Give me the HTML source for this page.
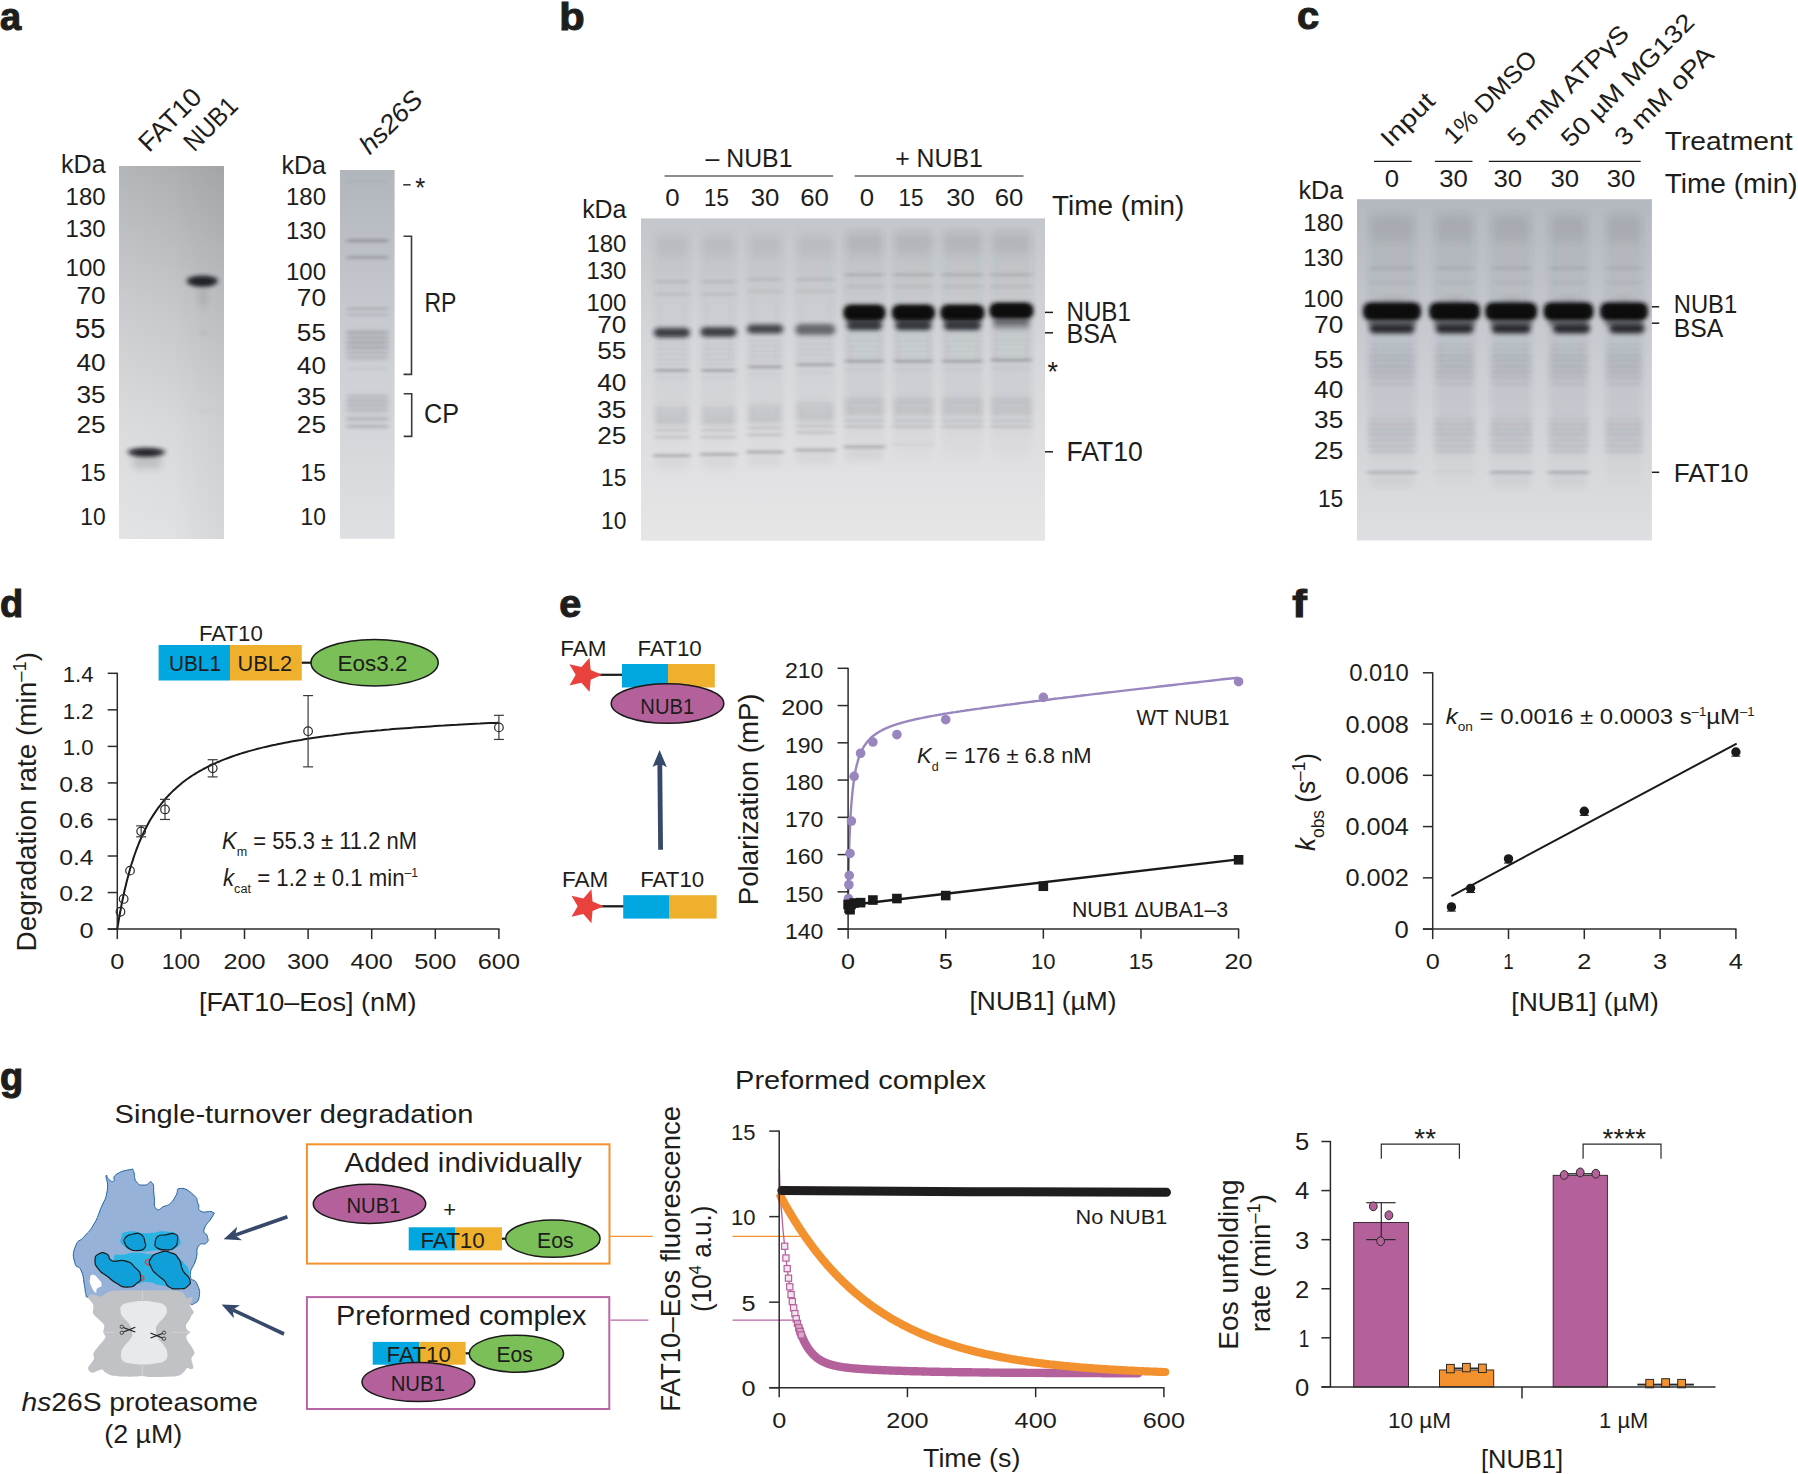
<!DOCTYPE html>
<html lang="en"><head><meta charset="utf-8"><title>Figure</title>
<style>html,body{margin:0;padding:0;background:#fff}body{width:1798px;height:1474px;overflow:hidden}svg{display:block}svg text{font-family:"Liberation Sans",sans-serif;fill:#1d1d1b}</style></head>
<body>
<svg width="1798" height="1474" viewBox="0 0 1798 1474">
<defs>
<filter id="b1" x="-20%" y="-300%" width="140%" height="700%"><feGaussianBlur stdDeviation="2.0 1.45"/></filter>
<filter id="b2" x="-30%" y="-200%" width="160%" height="500%"><feGaussianBlur stdDeviation="2.4 2.1"/></filter>
<filter id="b3" x="-50%" y="-100%" width="200%" height="300%"><feGaussianBlur stdDeviation="3.5 4"/></filter>
<linearGradient id="gA1" x1="0" y1="0" x2="0" y2="1"><stop offset="0" stop-color="#a9acaf"/><stop offset="0.35" stop-color="#c1c3c6"/><stop offset="0.7" stop-color="#d6d7d9"/><stop offset="1" stop-color="#dfe0e1"/></linearGradient>
<linearGradient id="gA1h" x1="0" y1="0" x2="1" y2="0"><stop offset="0" stop-color="#fff" stop-opacity="0.12"/><stop offset="0.5" stop-color="#fff" stop-opacity="0.05"/><stop offset="1" stop-color="#000" stop-opacity="0.04"/></linearGradient>
<linearGradient id="gA2" x1="0" y1="0" x2="0" y2="1"><stop offset="0" stop-color="#b1b5bc"/><stop offset="0.5" stop-color="#cccfd4"/><stop offset="1" stop-color="#dfe0e3"/></linearGradient>
<linearGradient id="gB" x1="0" y1="0" x2="0" y2="1"><stop offset="0" stop-color="#c3c6ca"/><stop offset="0.4" stop-color="#d6d7da"/><stop offset="1" stop-color="#e6e6e7"/></linearGradient>
<linearGradient id="gC" x1="0" y1="0" x2="0" y2="1"><stop offset="0" stop-color="#b4b8bf"/><stop offset="0.45" stop-color="#c9ccd1"/><stop offset="1" stop-color="#dedfe2"/></linearGradient>
<linearGradient id="laneB" x1="0" y1="0" x2="0" y2="1"><stop offset="0" stop-color="#30343c" stop-opacity="0.08"/><stop offset="0.7" stop-color="#30343c" stop-opacity="0.06"/><stop offset="1" stop-color="#30343c" stop-opacity="0"/></linearGradient>
</defs>
<text transform="translate(0.00 29.50)" font-size="38.00" font-weight="700" stroke="#222221" stroke-width="1.1" fill="#222221">a</text>
<rect x="119" y="166" width="105" height="373" fill="url(#gA1)"/>
<rect x="119" y="166" width="105" height="373" fill="url(#gA1h)"/>
<ellipse cx="202.3" cy="281.0" rx="15.5" ry="5.5" fill="#15151a" opacity="0.80" filter="url(#b2)"/>
<ellipse cx="202.3" cy="281.6" rx="12.5" ry="3.2" fill="#15151a" opacity="0.80" filter="url(#b2)"/>
<ellipse cx="203.0" cy="297.0" rx="4.0" ry="11.0" fill="#15151a" opacity="0.11" filter="url(#b3)"/>
<ellipse cx="204.0" cy="333.0" rx="5.0" ry="2.5" fill="#15151a" opacity="0.05" filter="url(#b2)"/>
<ellipse cx="204.0" cy="411.0" rx="6.0" ry="1.5" fill="#15151a" opacity="0.04" filter="url(#b2)"/>
<ellipse cx="146.5" cy="452.0" rx="19.0" ry="4.2" fill="#15151a" opacity="0.78" filter="url(#b2)"/>
<ellipse cx="146.0" cy="453.0" rx="15.0" ry="2.5" fill="#15151a" opacity="0.75" filter="url(#b2)"/>
<rect x="132.0" y="455.0" width="30.0" height="13.0" rx="6.0" fill="#15151a" opacity="0.16" filter="url(#b3)"/>
<text transform="translate(105.60 172.50) scale(0.9408 1)" font-size="26.60" text-anchor="end">kDa</text>
<text transform="translate(105.60 204.50) scale(1.0120 1)" font-size="23.69" text-anchor="end">180</text>
<text transform="translate(105.60 236.50) scale(1.0120 1)" font-size="23.69" text-anchor="end">130</text>
<text transform="translate(105.60 275.50) scale(1.0120 1)" font-size="23.69" text-anchor="end">100</text>
<text transform="translate(105.60 303.50) scale(1.1079 1)" font-size="23.69" text-anchor="end">70</text>
<text transform="translate(105.60 370.90) scale(1.1079 1)" font-size="23.69" text-anchor="end">40</text>
<text transform="translate(105.60 403.00) scale(1.1079 1)" font-size="23.69" text-anchor="end">35</text>
<text transform="translate(105.60 432.90) scale(1.1079 1)" font-size="23.69" text-anchor="end">25</text>
<text transform="translate(105.60 480.80) scale(0.9640 1)" font-size="23.69" text-anchor="end">15</text>
<text transform="translate(105.60 524.80) scale(0.9640 1)" font-size="23.69" text-anchor="end">10</text>
<text transform="translate(105.50 338.40) scale(1.0253 1)" font-size="26.74" text-anchor="end">55</text>
<text transform="translate(149.00 153.20) rotate(-45.00) scale(1.0249 1)" font-size="26.16">FAT10</text>
<text transform="translate(194.20 152.80) rotate(-45.00) scale(0.9170 1)" font-size="26.16">NUB1</text>
<rect x="340" y="170" width="54.6" height="368.8" fill="url(#gA2)"/>
<rect x="346.5" y="180.0" width="42.0" height="3.0" rx="1.5" fill="#15151a" opacity="0.03" filter="url(#b1)"/>
<rect x="346.5" y="239.0" width="42.0" height="3.2" rx="1.6" fill="#15151a" opacity="0.22" filter="url(#b1)"/>
<rect x="346.5" y="255.8" width="42.0" height="3.2" rx="1.6" fill="#15151a" opacity="0.19" filter="url(#b1)"/>
<rect x="346.5" y="307.5" width="42.0" height="2.6" rx="1.3" fill="#15151a" opacity="0.14" filter="url(#b1)"/>
<rect x="346.5" y="313.4" width="42.0" height="2.4" rx="1.2" fill="#15151a" opacity="0.11" filter="url(#b1)"/>
<rect x="346.5" y="331.0" width="42.0" height="3.0" rx="1.5" fill="#15151a" opacity="0.16" filter="url(#b1)"/>
<rect x="346.5" y="336.3" width="42.0" height="2.6" rx="1.3" fill="#15151a" opacity="0.14" filter="url(#b1)"/>
<rect x="346.5" y="341.3" width="42.0" height="2.6" rx="1.3" fill="#15151a" opacity="0.16" filter="url(#b1)"/>
<rect x="346.5" y="346.2" width="42.0" height="2.6" rx="1.3" fill="#15151a" opacity="0.16" filter="url(#b1)"/>
<rect x="346.5" y="351.6" width="42.0" height="2.4" rx="1.2" fill="#15151a" opacity="0.11" filter="url(#b1)"/>
<rect x="346.5" y="356.6" width="42.0" height="2.4" rx="1.2" fill="#15151a" opacity="0.11" filter="url(#b1)"/>
<rect x="346.5" y="367.3" width="42.0" height="3.0" rx="1.5" fill="#15151a" opacity="0.04" filter="url(#b1)"/>
<rect x="346.5" y="395.1" width="42.0" height="2.4" rx="1.2" fill="#15151a" opacity="0.11" filter="url(#b1)"/>
<rect x="346.5" y="399.6" width="42.0" height="2.4" rx="1.2" fill="#15151a" opacity="0.15" filter="url(#b1)"/>
<rect x="346.5" y="404.0" width="42.0" height="2.4" rx="1.2" fill="#15151a" opacity="0.14" filter="url(#b1)"/>
<rect x="346.5" y="408.7" width="42.0" height="2.6" rx="1.3" fill="#15151a" opacity="0.12" filter="url(#b1)"/>
<rect x="346.5" y="417.4" width="42.0" height="2.8" rx="1.4" fill="#15151a" opacity="0.14" filter="url(#b1)"/>
<rect x="346.5" y="425.2" width="42.0" height="2.8" rx="1.4" fill="#15151a" opacity="0.16" filter="url(#b1)"/>
<rect x="346.5" y="330.0" width="42.0" height="30.0" rx="6.0" fill="#15151a" opacity="0.05" filter="url(#b3)"/>
<rect x="346.5" y="393.0" width="42.0" height="34.0" rx="6.0" fill="#15151a" opacity="0.04" filter="url(#b3)"/>
<text transform="translate(326.00 173.70) scale(0.9408 1)" font-size="26.60" text-anchor="end">kDa</text>
<text transform="translate(326.00 205.00) scale(1.0120 1)" font-size="23.69" text-anchor="end">180</text>
<text transform="translate(326.00 239.30) scale(1.0120 1)" font-size="23.69" text-anchor="end">130</text>
<text transform="translate(326.00 280.30) scale(1.0120 1)" font-size="23.69" text-anchor="end">100</text>
<text transform="translate(326.00 306.30) scale(1.1079 1)" font-size="23.69" text-anchor="end">70</text>
<text transform="translate(326.00 341.30) scale(1.1079 1)" font-size="23.69" text-anchor="end">55</text>
<text transform="translate(326.00 374.00) scale(1.1079 1)" font-size="23.69" text-anchor="end">40</text>
<text transform="translate(326.00 405.20) scale(1.1079 1)" font-size="23.69" text-anchor="end">35</text>
<text transform="translate(326.00 432.80) scale(1.1079 1)" font-size="23.69" text-anchor="end">25</text>
<text transform="translate(326.00 480.90) scale(0.9640 1)" font-size="23.69" text-anchor="end">15</text>
<text transform="translate(326.00 524.70) scale(0.9640 1)" font-size="23.69" text-anchor="end">10</text>
<text transform="translate(369.80 155.60) rotate(-45.00) scale(1.0380 1)" font-size="26.16" font-style="italic">hs26S</text>
<line x1="403.20" y1="184.80" x2="410.60" y2="184.80" stroke="#3a3a3a" stroke-width="1.60"/>
<text transform="translate(415.20 197.30) scale(0.9500 1)" font-size="27.00">*</text>
<path d="M403.5 236.3 H411.5 V374.4 H403.5" fill="none" stroke="#3a3a3a" stroke-width="1.60"/>
<text transform="translate(424.40 311.50) scale(0.8521 1)" font-size="27.03">RP</text>
<path d="M403.7 393.8 H411.7 V436.4 H403.7" fill="none" stroke="#3a3a3a" stroke-width="1.60"/>
<text transform="translate(424.00 422.60) scale(0.9319 1)" font-size="27.03">CP</text>
<text transform="translate(559.30 29.70) scale(1.0800 1)" font-size="38.50" font-weight="700" stroke="#222221" stroke-width="1.1" fill="#222221">b</text>
<rect x="641" y="218.4" width="404" height="322.3" fill="url(#gB)"/>
<rect x="654.4" y="232" width="35.0" height="240" fill="url(#laneB)" opacity="0.55" filter="url(#b3)"/>
<rect x="701.0" y="232" width="35.0" height="240" fill="url(#laneB)" opacity="0.55" filter="url(#b3)"/>
<rect x="747.6" y="232" width="35.0" height="240" fill="url(#laneB)" opacity="0.55" filter="url(#b3)"/>
<rect x="795.8" y="232" width="39.0" height="240" fill="url(#laneB)" opacity="0.55" filter="url(#b3)"/>
<rect x="844.4" y="232" width="40.0" height="240" fill="url(#laneB)" opacity="0.80" filter="url(#b3)"/>
<rect x="892.9" y="232" width="41.0" height="240" fill="url(#laneB)" opacity="0.80" filter="url(#b3)"/>
<rect x="941.4" y="232" width="42.0" height="240" fill="url(#laneB)" opacity="0.80" filter="url(#b3)"/>
<rect x="990.4" y="232" width="42.0" height="240" fill="url(#laneB)" opacity="0.80" filter="url(#b3)"/>
<rect x="656.4" y="238.0" width="31.0" height="18.0" rx="6.0" fill="#15151a" opacity="0.04" filter="url(#b3)"/>
<rect x="703.0" y="238.0" width="31.0" height="18.0" rx="6.0" fill="#15151a" opacity="0.04" filter="url(#b3)"/>
<rect x="749.6" y="238.0" width="31.0" height="18.0" rx="6.0" fill="#15151a" opacity="0.04" filter="url(#b3)"/>
<rect x="797.8" y="238.0" width="35.0" height="18.0" rx="6.0" fill="#15151a" opacity="0.04" filter="url(#b3)"/>
<rect x="846.4" y="232.0" width="36.0" height="22.0" rx="6.0" fill="#15151a" opacity="0.06" filter="url(#b3)"/>
<rect x="894.9" y="232.0" width="37.0" height="22.0" rx="6.0" fill="#15151a" opacity="0.06" filter="url(#b3)"/>
<rect x="943.4" y="232.0" width="38.0" height="22.0" rx="6.0" fill="#15151a" opacity="0.06" filter="url(#b3)"/>
<rect x="992.4" y="232.0" width="38.0" height="22.0" rx="6.0" fill="#15151a" opacity="0.06" filter="url(#b3)"/>
<rect x="654.4" y="280.6" width="35.0" height="2.2" rx="1.1" fill="#15151a" opacity="0.11" filter="url(#b1)"/>
<rect x="701.0" y="280.6" width="35.0" height="2.2" rx="1.1" fill="#15151a" opacity="0.11" filter="url(#b1)"/>
<rect x="654.4" y="293.1" width="35.0" height="2.2" rx="1.1" fill="#15151a" opacity="0.09" filter="url(#b1)"/>
<rect x="701.0" y="293.1" width="35.0" height="2.2" rx="1.1" fill="#15151a" opacity="0.09" filter="url(#b1)"/>
<rect x="747.6" y="278.3" width="35.0" height="2.2" rx="1.1" fill="#15151a" opacity="0.11" filter="url(#b1)"/>
<rect x="795.8" y="278.3" width="39.0" height="2.2" rx="1.1" fill="#15151a" opacity="0.11" filter="url(#b1)"/>
<rect x="747.6" y="290.2" width="35.0" height="2.2" rx="1.1" fill="#15151a" opacity="0.08" filter="url(#b1)"/>
<rect x="795.8" y="290.2" width="39.0" height="2.2" rx="1.1" fill="#15151a" opacity="0.08" filter="url(#b1)"/>
<rect x="844.4" y="273.4" width="40.0" height="2.4" rx="1.2" fill="#15151a" opacity="0.15" filter="url(#b1)"/>
<rect x="892.9" y="273.4" width="41.0" height="2.4" rx="1.2" fill="#15151a" opacity="0.15" filter="url(#b1)"/>
<rect x="941.4" y="273.4" width="42.0" height="2.4" rx="1.2" fill="#15151a" opacity="0.15" filter="url(#b1)"/>
<rect x="990.4" y="273.4" width="42.0" height="2.4" rx="1.2" fill="#15151a" opacity="0.15" filter="url(#b1)"/>
<rect x="844.4" y="285.3" width="40.0" height="2.4" rx="1.2" fill="#15151a" opacity="0.07" filter="url(#b1)"/>
<rect x="892.9" y="285.3" width="41.0" height="2.4" rx="1.2" fill="#15151a" opacity="0.07" filter="url(#b1)"/>
<rect x="941.4" y="285.3" width="42.0" height="2.4" rx="1.2" fill="#15151a" opacity="0.07" filter="url(#b1)"/>
<rect x="990.4" y="285.3" width="42.0" height="2.4" rx="1.2" fill="#15151a" opacity="0.07" filter="url(#b1)"/>
<rect x="843.9" y="304.8" width="41.0" height="16.0" rx="6.0" fill="#0c0c10" opacity="1.00" filter="url(#b2)"/>
<rect x="845.9" y="306.8" width="37.0" height="12.0" rx="6.0" fill="#0c0c10" opacity="1.00" filter="url(#b1)"/>
<rect x="846.9" y="321.8" width="35.0" height="8.5" rx="4.2" fill="#15151a" opacity="0.80" filter="url(#b2)"/>
<rect x="847.4" y="318.5" width="34.0" height="6.0" rx="3.0" fill="#15151a" opacity="0.50" filter="url(#b2)"/>
<rect x="892.4" y="304.8" width="42.0" height="16.0" rx="6.0" fill="#0c0c10" opacity="1.00" filter="url(#b2)"/>
<rect x="894.4" y="306.8" width="38.0" height="12.0" rx="6.0" fill="#0c0c10" opacity="1.00" filter="url(#b1)"/>
<rect x="895.4" y="321.8" width="36.0" height="8.5" rx="4.2" fill="#15151a" opacity="0.80" filter="url(#b2)"/>
<rect x="895.9" y="318.5" width="35.0" height="6.0" rx="3.0" fill="#15151a" opacity="0.50" filter="url(#b2)"/>
<rect x="940.9" y="304.8" width="43.0" height="16.0" rx="6.0" fill="#0c0c10" opacity="1.00" filter="url(#b2)"/>
<rect x="942.9" y="306.8" width="39.0" height="12.0" rx="6.0" fill="#0c0c10" opacity="1.00" filter="url(#b1)"/>
<rect x="943.9" y="321.8" width="37.0" height="8.5" rx="4.2" fill="#15151a" opacity="0.80" filter="url(#b2)"/>
<rect x="944.4" y="318.5" width="36.0" height="6.0" rx="3.0" fill="#15151a" opacity="0.50" filter="url(#b2)"/>
<rect x="989.9" y="302.8" width="43.0" height="16.0" rx="6.0" fill="#0c0c10" opacity="1.00" filter="url(#b2)"/>
<rect x="991.9" y="304.8" width="39.0" height="12.0" rx="6.0" fill="#0c0c10" opacity="1.00" filter="url(#b1)"/>
<rect x="992.9" y="321.8" width="37.0" height="8.5" rx="4.2" fill="#15151a" opacity="0.23" filter="url(#b2)"/>
<rect x="993.4" y="318.5" width="36.0" height="6.0" rx="3.0" fill="#15151a" opacity="0.50" filter="url(#b2)"/>
<rect x="653.9" y="327.9" width="36.0" height="9.5" rx="4.8" fill="#15151a" opacity="0.78" filter="url(#b2)"/>
<rect x="700.5" y="327.2" width="36.0" height="9.5" rx="4.8" fill="#15151a" opacity="0.78" filter="url(#b2)"/>
<rect x="747.1" y="324.5" width="36.0" height="9.0" rx="4.5" fill="#15151a" opacity="0.74" filter="url(#b2)"/>
<rect x="795.3" y="324.1" width="40.0" height="11.0" rx="5.5" fill="#15151a" opacity="0.55" filter="url(#b2)"/>
<rect x="655.4" y="342.9" width="33.0" height="2.2" rx="1.1" fill="#15151a" opacity="0.05" filter="url(#b1)"/>
<rect x="655.4" y="347.9" width="33.0" height="2.2" rx="1.1" fill="#15151a" opacity="0.07" filter="url(#b1)"/>
<rect x="655.4" y="352.9" width="33.0" height="2.2" rx="1.1" fill="#15151a" opacity="0.07" filter="url(#b1)"/>
<rect x="655.4" y="357.9" width="33.0" height="2.2" rx="1.1" fill="#15151a" opacity="0.07" filter="url(#b1)"/>
<rect x="655.4" y="362.9" width="33.0" height="2.2" rx="1.1" fill="#15151a" opacity="0.06" filter="url(#b1)"/>
<rect x="654.9" y="368.9" width="34.0" height="2.8" rx="1.4" fill="#15151a" opacity="0.25" filter="url(#b1)"/>
<rect x="655.4" y="376.5" width="33.0" height="2.0" rx="1.0" fill="#15151a" opacity="0.04" filter="url(#b1)"/>
<rect x="654.9" y="406.8" width="34.0" height="2.4" rx="1.2" fill="#15151a" opacity="0.05" filter="url(#b1)"/>
<rect x="654.9" y="410.8" width="34.0" height="2.4" rx="1.2" fill="#15151a" opacity="0.07" filter="url(#b1)"/>
<rect x="654.9" y="415.3" width="34.0" height="2.4" rx="1.2" fill="#15151a" opacity="0.08" filter="url(#b1)"/>
<rect x="654.9" y="419.3" width="34.0" height="2.4" rx="1.2" fill="#15151a" opacity="0.09" filter="url(#b1)"/>
<rect x="654.9" y="422.8" width="34.0" height="2.4" rx="1.2" fill="#15151a" opacity="0.06" filter="url(#b1)"/>
<rect x="654.4" y="405.0" width="35.0" height="20.0" rx="6.0" fill="#15151a" opacity="0.04" filter="url(#b3)"/>
<rect x="654.4" y="429.2" width="35.0" height="2.2" rx="1.1" fill="#15151a" opacity="0.12" filter="url(#b1)"/>
<rect x="654.4" y="436.1" width="35.0" height="2.2" rx="1.1" fill="#15151a" opacity="0.14" filter="url(#b1)"/>
<rect x="702.0" y="342.9" width="33.0" height="2.2" rx="1.1" fill="#15151a" opacity="0.05" filter="url(#b1)"/>
<rect x="702.0" y="347.9" width="33.0" height="2.2" rx="1.1" fill="#15151a" opacity="0.07" filter="url(#b1)"/>
<rect x="702.0" y="352.9" width="33.0" height="2.2" rx="1.1" fill="#15151a" opacity="0.07" filter="url(#b1)"/>
<rect x="702.0" y="357.9" width="33.0" height="2.2" rx="1.1" fill="#15151a" opacity="0.07" filter="url(#b1)"/>
<rect x="702.0" y="362.9" width="33.0" height="2.2" rx="1.1" fill="#15151a" opacity="0.06" filter="url(#b1)"/>
<rect x="701.5" y="368.9" width="34.0" height="2.8" rx="1.4" fill="#15151a" opacity="0.25" filter="url(#b1)"/>
<rect x="702.0" y="376.5" width="33.0" height="2.0" rx="1.0" fill="#15151a" opacity="0.04" filter="url(#b1)"/>
<rect x="701.5" y="406.8" width="34.0" height="2.4" rx="1.2" fill="#15151a" opacity="0.05" filter="url(#b1)"/>
<rect x="701.5" y="410.8" width="34.0" height="2.4" rx="1.2" fill="#15151a" opacity="0.07" filter="url(#b1)"/>
<rect x="701.5" y="415.3" width="34.0" height="2.4" rx="1.2" fill="#15151a" opacity="0.08" filter="url(#b1)"/>
<rect x="701.5" y="419.3" width="34.0" height="2.4" rx="1.2" fill="#15151a" opacity="0.09" filter="url(#b1)"/>
<rect x="701.5" y="422.8" width="34.0" height="2.4" rx="1.2" fill="#15151a" opacity="0.06" filter="url(#b1)"/>
<rect x="701.0" y="405.0" width="35.0" height="20.0" rx="6.0" fill="#15151a" opacity="0.04" filter="url(#b3)"/>
<rect x="701.0" y="429.2" width="35.0" height="2.2" rx="1.1" fill="#15151a" opacity="0.12" filter="url(#b1)"/>
<rect x="701.0" y="436.1" width="35.0" height="2.2" rx="1.1" fill="#15151a" opacity="0.14" filter="url(#b1)"/>
<rect x="748.6" y="339.9" width="33.0" height="2.2" rx="1.1" fill="#15151a" opacity="0.05" filter="url(#b1)"/>
<rect x="748.6" y="344.9" width="33.0" height="2.2" rx="1.1" fill="#15151a" opacity="0.07" filter="url(#b1)"/>
<rect x="748.6" y="349.9" width="33.0" height="2.2" rx="1.1" fill="#15151a" opacity="0.07" filter="url(#b1)"/>
<rect x="748.6" y="354.9" width="33.0" height="2.2" rx="1.1" fill="#15151a" opacity="0.07" filter="url(#b1)"/>
<rect x="748.6" y="359.9" width="33.0" height="2.2" rx="1.1" fill="#15151a" opacity="0.06" filter="url(#b1)"/>
<rect x="748.1" y="365.5" width="34.0" height="2.8" rx="1.4" fill="#15151a" opacity="0.25" filter="url(#b1)"/>
<rect x="748.6" y="373.5" width="33.0" height="2.0" rx="1.0" fill="#15151a" opacity="0.04" filter="url(#b1)"/>
<rect x="748.1" y="404.8" width="34.0" height="2.4" rx="1.2" fill="#15151a" opacity="0.05" filter="url(#b1)"/>
<rect x="748.1" y="408.8" width="34.0" height="2.4" rx="1.2" fill="#15151a" opacity="0.07" filter="url(#b1)"/>
<rect x="748.1" y="413.3" width="34.0" height="2.4" rx="1.2" fill="#15151a" opacity="0.08" filter="url(#b1)"/>
<rect x="748.1" y="417.3" width="34.0" height="2.4" rx="1.2" fill="#15151a" opacity="0.09" filter="url(#b1)"/>
<rect x="748.1" y="420.8" width="34.0" height="2.4" rx="1.2" fill="#15151a" opacity="0.06" filter="url(#b1)"/>
<rect x="747.6" y="403.0" width="35.0" height="20.0" rx="6.0" fill="#15151a" opacity="0.04" filter="url(#b3)"/>
<rect x="747.6" y="427.1" width="35.0" height="2.2" rx="1.1" fill="#15151a" opacity="0.12" filter="url(#b1)"/>
<rect x="747.6" y="433.7" width="35.0" height="2.2" rx="1.1" fill="#15151a" opacity="0.14" filter="url(#b1)"/>
<rect x="796.8" y="337.9" width="37.0" height="2.2" rx="1.1" fill="#15151a" opacity="0.05" filter="url(#b1)"/>
<rect x="796.8" y="342.9" width="37.0" height="2.2" rx="1.1" fill="#15151a" opacity="0.07" filter="url(#b1)"/>
<rect x="796.8" y="347.9" width="37.0" height="2.2" rx="1.1" fill="#15151a" opacity="0.07" filter="url(#b1)"/>
<rect x="796.8" y="352.9" width="37.0" height="2.2" rx="1.1" fill="#15151a" opacity="0.07" filter="url(#b1)"/>
<rect x="796.8" y="357.9" width="37.0" height="2.2" rx="1.1" fill="#15151a" opacity="0.06" filter="url(#b1)"/>
<rect x="796.3" y="363.2" width="38.0" height="2.8" rx="1.4" fill="#15151a" opacity="0.25" filter="url(#b1)"/>
<rect x="796.8" y="371.5" width="37.0" height="2.0" rx="1.0" fill="#15151a" opacity="0.04" filter="url(#b1)"/>
<rect x="796.3" y="402.8" width="38.0" height="2.4" rx="1.2" fill="#15151a" opacity="0.05" filter="url(#b1)"/>
<rect x="796.3" y="406.8" width="38.0" height="2.4" rx="1.2" fill="#15151a" opacity="0.07" filter="url(#b1)"/>
<rect x="796.3" y="411.3" width="38.0" height="2.4" rx="1.2" fill="#15151a" opacity="0.08" filter="url(#b1)"/>
<rect x="796.3" y="415.3" width="38.0" height="2.4" rx="1.2" fill="#15151a" opacity="0.09" filter="url(#b1)"/>
<rect x="796.3" y="418.8" width="38.0" height="2.4" rx="1.2" fill="#15151a" opacity="0.06" filter="url(#b1)"/>
<rect x="795.8" y="401.0" width="39.0" height="20.0" rx="6.0" fill="#15151a" opacity="0.04" filter="url(#b3)"/>
<rect x="795.8" y="425.0" width="39.0" height="2.2" rx="1.1" fill="#15151a" opacity="0.12" filter="url(#b1)"/>
<rect x="795.8" y="431.3" width="39.0" height="2.2" rx="1.1" fill="#15151a" opacity="0.14" filter="url(#b1)"/>
<rect x="845.4" y="334.9" width="38.0" height="2.2" rx="1.1" fill="#15151a" opacity="0.05" filter="url(#b1)"/>
<rect x="845.4" y="339.9" width="38.0" height="2.2" rx="1.1" fill="#15151a" opacity="0.07" filter="url(#b1)"/>
<rect x="845.4" y="344.9" width="38.0" height="2.2" rx="1.1" fill="#15151a" opacity="0.07" filter="url(#b1)"/>
<rect x="845.4" y="349.9" width="38.0" height="2.2" rx="1.1" fill="#15151a" opacity="0.07" filter="url(#b1)"/>
<rect x="845.4" y="354.9" width="38.0" height="2.2" rx="1.1" fill="#15151a" opacity="0.06" filter="url(#b1)"/>
<rect x="844.9" y="359.7" width="39.0" height="2.8" rx="1.4" fill="#15151a" opacity="0.25" filter="url(#b1)"/>
<rect x="845.4" y="368.5" width="38.0" height="2.0" rx="1.0" fill="#15151a" opacity="0.04" filter="url(#b1)"/>
<rect x="844.9" y="397.8" width="39.0" height="2.4" rx="1.2" fill="#15151a" opacity="0.05" filter="url(#b1)"/>
<rect x="844.9" y="401.8" width="39.0" height="2.4" rx="1.2" fill="#15151a" opacity="0.07" filter="url(#b1)"/>
<rect x="844.9" y="406.3" width="39.0" height="2.4" rx="1.2" fill="#15151a" opacity="0.08" filter="url(#b1)"/>
<rect x="844.9" y="410.3" width="39.0" height="2.4" rx="1.2" fill="#15151a" opacity="0.09" filter="url(#b1)"/>
<rect x="844.9" y="413.8" width="39.0" height="2.4" rx="1.2" fill="#15151a" opacity="0.06" filter="url(#b1)"/>
<rect x="844.4" y="396.0" width="40.0" height="20.0" rx="6.0" fill="#15151a" opacity="0.04" filter="url(#b3)"/>
<rect x="844.4" y="419.8" width="40.0" height="2.2" rx="1.1" fill="#15151a" opacity="0.12" filter="url(#b1)"/>
<rect x="844.4" y="425.3" width="40.0" height="2.2" rx="1.1" fill="#15151a" opacity="0.14" filter="url(#b1)"/>
<rect x="893.9" y="334.9" width="39.0" height="2.2" rx="1.1" fill="#15151a" opacity="0.05" filter="url(#b1)"/>
<rect x="893.9" y="339.9" width="39.0" height="2.2" rx="1.1" fill="#15151a" opacity="0.07" filter="url(#b1)"/>
<rect x="893.9" y="344.9" width="39.0" height="2.2" rx="1.1" fill="#15151a" opacity="0.07" filter="url(#b1)"/>
<rect x="893.9" y="349.9" width="39.0" height="2.2" rx="1.1" fill="#15151a" opacity="0.07" filter="url(#b1)"/>
<rect x="893.9" y="354.9" width="39.0" height="2.2" rx="1.1" fill="#15151a" opacity="0.06" filter="url(#b1)"/>
<rect x="893.4" y="359.7" width="40.0" height="2.8" rx="1.4" fill="#15151a" opacity="0.25" filter="url(#b1)"/>
<rect x="893.9" y="368.5" width="39.0" height="2.0" rx="1.0" fill="#15151a" opacity="0.04" filter="url(#b1)"/>
<rect x="893.4" y="397.8" width="40.0" height="2.4" rx="1.2" fill="#15151a" opacity="0.05" filter="url(#b1)"/>
<rect x="893.4" y="401.8" width="40.0" height="2.4" rx="1.2" fill="#15151a" opacity="0.07" filter="url(#b1)"/>
<rect x="893.4" y="406.3" width="40.0" height="2.4" rx="1.2" fill="#15151a" opacity="0.08" filter="url(#b1)"/>
<rect x="893.4" y="410.3" width="40.0" height="2.4" rx="1.2" fill="#15151a" opacity="0.09" filter="url(#b1)"/>
<rect x="893.4" y="413.8" width="40.0" height="2.4" rx="1.2" fill="#15151a" opacity="0.06" filter="url(#b1)"/>
<rect x="892.9" y="396.0" width="41.0" height="20.0" rx="6.0" fill="#15151a" opacity="0.04" filter="url(#b3)"/>
<rect x="892.9" y="419.8" width="41.0" height="2.2" rx="1.1" fill="#15151a" opacity="0.12" filter="url(#b1)"/>
<rect x="892.9" y="425.3" width="41.0" height="2.2" rx="1.1" fill="#15151a" opacity="0.14" filter="url(#b1)"/>
<rect x="942.4" y="334.9" width="40.0" height="2.2" rx="1.1" fill="#15151a" opacity="0.05" filter="url(#b1)"/>
<rect x="942.4" y="339.9" width="40.0" height="2.2" rx="1.1" fill="#15151a" opacity="0.07" filter="url(#b1)"/>
<rect x="942.4" y="344.9" width="40.0" height="2.2" rx="1.1" fill="#15151a" opacity="0.07" filter="url(#b1)"/>
<rect x="942.4" y="349.9" width="40.0" height="2.2" rx="1.1" fill="#15151a" opacity="0.07" filter="url(#b1)"/>
<rect x="942.4" y="354.9" width="40.0" height="2.2" rx="1.1" fill="#15151a" opacity="0.06" filter="url(#b1)"/>
<rect x="941.9" y="359.7" width="41.0" height="2.8" rx="1.4" fill="#15151a" opacity="0.25" filter="url(#b1)"/>
<rect x="942.4" y="368.5" width="40.0" height="2.0" rx="1.0" fill="#15151a" opacity="0.04" filter="url(#b1)"/>
<rect x="941.9" y="397.8" width="41.0" height="2.4" rx="1.2" fill="#15151a" opacity="0.05" filter="url(#b1)"/>
<rect x="941.9" y="401.8" width="41.0" height="2.4" rx="1.2" fill="#15151a" opacity="0.07" filter="url(#b1)"/>
<rect x="941.9" y="406.3" width="41.0" height="2.4" rx="1.2" fill="#15151a" opacity="0.08" filter="url(#b1)"/>
<rect x="941.9" y="410.3" width="41.0" height="2.4" rx="1.2" fill="#15151a" opacity="0.09" filter="url(#b1)"/>
<rect x="941.9" y="413.8" width="41.0" height="2.4" rx="1.2" fill="#15151a" opacity="0.06" filter="url(#b1)"/>
<rect x="941.4" y="396.0" width="42.0" height="20.0" rx="6.0" fill="#15151a" opacity="0.04" filter="url(#b3)"/>
<rect x="941.4" y="419.8" width="42.0" height="2.2" rx="1.1" fill="#15151a" opacity="0.12" filter="url(#b1)"/>
<rect x="941.4" y="425.3" width="42.0" height="2.2" rx="1.1" fill="#15151a" opacity="0.14" filter="url(#b1)"/>
<rect x="991.4" y="333.9" width="40.0" height="2.2" rx="1.1" fill="#15151a" opacity="0.05" filter="url(#b1)"/>
<rect x="991.4" y="338.9" width="40.0" height="2.2" rx="1.1" fill="#15151a" opacity="0.07" filter="url(#b1)"/>
<rect x="991.4" y="343.9" width="40.0" height="2.2" rx="1.1" fill="#15151a" opacity="0.07" filter="url(#b1)"/>
<rect x="991.4" y="348.9" width="40.0" height="2.2" rx="1.1" fill="#15151a" opacity="0.07" filter="url(#b1)"/>
<rect x="991.4" y="353.9" width="40.0" height="2.2" rx="1.1" fill="#15151a" opacity="0.06" filter="url(#b1)"/>
<rect x="990.9" y="358.6" width="41.0" height="2.8" rx="1.4" fill="#15151a" opacity="0.25" filter="url(#b1)"/>
<rect x="991.4" y="367.5" width="40.0" height="2.0" rx="1.0" fill="#15151a" opacity="0.04" filter="url(#b1)"/>
<rect x="990.9" y="397.8" width="41.0" height="2.4" rx="1.2" fill="#15151a" opacity="0.05" filter="url(#b1)"/>
<rect x="990.9" y="401.8" width="41.0" height="2.4" rx="1.2" fill="#15151a" opacity="0.07" filter="url(#b1)"/>
<rect x="990.9" y="406.3" width="41.0" height="2.4" rx="1.2" fill="#15151a" opacity="0.08" filter="url(#b1)"/>
<rect x="990.9" y="410.3" width="41.0" height="2.4" rx="1.2" fill="#15151a" opacity="0.09" filter="url(#b1)"/>
<rect x="990.9" y="413.8" width="41.0" height="2.4" rx="1.2" fill="#15151a" opacity="0.06" filter="url(#b1)"/>
<rect x="990.4" y="396.0" width="42.0" height="20.0" rx="6.0" fill="#15151a" opacity="0.04" filter="url(#b3)"/>
<rect x="990.4" y="419.8" width="42.0" height="2.2" rx="1.1" fill="#15151a" opacity="0.12" filter="url(#b1)"/>
<rect x="990.4" y="425.3" width="42.0" height="2.2" rx="1.1" fill="#15151a" opacity="0.14" filter="url(#b1)"/>
<rect x="652.9" y="454.2" width="38.0" height="2.8" rx="1.4" fill="#15151a" opacity="0.24" filter="url(#b1)"/>
<rect x="654.4" y="457.6" width="35.0" height="12.0" rx="6.0" fill="#15151a" opacity="0.04" filter="url(#b3)"/>
<rect x="699.5" y="453.0" width="38.0" height="2.8" rx="1.4" fill="#15151a" opacity="0.24" filter="url(#b1)"/>
<rect x="701.0" y="456.4" width="35.0" height="12.0" rx="6.0" fill="#15151a" opacity="0.04" filter="url(#b3)"/>
<rect x="746.1" y="450.6" width="38.0" height="2.8" rx="1.4" fill="#15151a" opacity="0.23" filter="url(#b1)"/>
<rect x="747.6" y="454.0" width="35.0" height="12.0" rx="6.0" fill="#15151a" opacity="0.04" filter="url(#b3)"/>
<rect x="794.3" y="448.6" width="42.0" height="2.8" rx="1.4" fill="#15151a" opacity="0.21" filter="url(#b1)"/>
<rect x="795.8" y="452.0" width="39.0" height="12.0" rx="6.0" fill="#15151a" opacity="0.04" filter="url(#b3)"/>
<rect x="842.9" y="445.4" width="43.0" height="2.8" rx="1.4" fill="#15151a" opacity="0.22" filter="url(#b1)"/>
<rect x="844.4" y="448.8" width="40.0" height="12.0" rx="6.0" fill="#15151a" opacity="0.04" filter="url(#b3)"/>
<rect x="891.4" y="443.2" width="44.0" height="2.8" rx="1.4" fill="#15151a" opacity="0.04" filter="url(#b1)"/>
<text transform="translate(749.00 167.40) scale(0.9341 1)" font-size="26.60" text-anchor="middle">– NUB1</text>
<text transform="translate(939.00 167.40) scale(0.9331 1)" font-size="26.60" text-anchor="middle">+ NUB1</text>
<line x1="664.60" y1="176.00" x2="833.20" y2="176.00" stroke="#1d1d1b" stroke-width="1.20"/>
<line x1="854.60" y1="176.00" x2="1023.50" y2="176.00" stroke="#1d1d1b" stroke-width="1.20"/>
<text transform="translate(672.40 206.30) scale(1.1079 1)" font-size="23.26" text-anchor="middle">0</text>
<text transform="translate(716.40 206.30) scale(0.9640 1)" font-size="23.26" text-anchor="middle">15</text>
<text transform="translate(765.00 206.30) scale(1.1079 1)" font-size="23.26" text-anchor="middle">30</text>
<text transform="translate(814.50 206.30) scale(1.1079 1)" font-size="23.26" text-anchor="middle">60</text>
<text transform="translate(867.00 206.30) scale(1.1079 1)" font-size="23.26" text-anchor="middle">0</text>
<text transform="translate(911.00 206.30) scale(0.9640 1)" font-size="23.26" text-anchor="middle">15</text>
<text transform="translate(960.50 206.30) scale(1.1079 1)" font-size="23.26" text-anchor="middle">30</text>
<text transform="translate(1009.00 206.30) scale(1.1079 1)" font-size="23.26" text-anchor="middle">60</text>
<text transform="translate(1052.00 215.30) scale(1.0436 1)" font-size="26.74">Time (min)</text>
<text transform="translate(626.40 218.00) scale(0.9365 1)" font-size="26.60" text-anchor="end">kDa</text>
<text transform="translate(626.40 252.00) scale(1.0120 1)" font-size="23.69" text-anchor="end">180</text>
<text transform="translate(626.40 279.40) scale(1.0120 1)" font-size="23.69" text-anchor="end">130</text>
<text transform="translate(626.40 311.00) scale(1.0120 1)" font-size="23.69" text-anchor="end">100</text>
<text transform="translate(626.40 332.70) scale(1.1079 1)" font-size="23.69" text-anchor="end">70</text>
<text transform="translate(626.40 359.40) scale(1.1079 1)" font-size="23.69" text-anchor="end">55</text>
<text transform="translate(626.40 391.40) scale(1.1079 1)" font-size="23.69" text-anchor="end">40</text>
<text transform="translate(626.40 418.40) scale(1.1079 1)" font-size="23.69" text-anchor="end">35</text>
<text transform="translate(626.40 443.90) scale(1.1079 1)" font-size="23.69" text-anchor="end">25</text>
<text transform="translate(626.40 485.80) scale(0.9640 1)" font-size="23.69" text-anchor="end">15</text>
<text transform="translate(626.40 528.80) scale(0.9640 1)" font-size="23.69" text-anchor="end">10</text>
<line x1="1045.00" y1="312.40" x2="1053.00" y2="312.40" stroke="#1d1d1b" stroke-width="1.50"/>
<line x1="1045.00" y1="332.80" x2="1053.00" y2="332.80" stroke="#1d1d1b" stroke-width="1.50"/>
<line x1="1045.00" y1="451.80" x2="1053.00" y2="451.80" stroke="#1d1d1b" stroke-width="1.50"/>
<text transform="translate(1066.40 320.90) scale(0.8769 1)" font-size="27.62">NUB1</text>
<text transform="translate(1066.40 342.60) scale(0.9084 1)" font-size="27.62">BSA</text>
<text transform="translate(1066.40 461.20) scale(0.9634 1)" font-size="27.62">FAT10</text>
<text transform="translate(1047.50 380.50)" font-size="27.00">*</text>
<text transform="translate(1297.00 29.20) scale(1.0500 1)" font-size="38.00" font-weight="700" stroke="#222221" stroke-width="1.1" fill="#222221">c</text>
<rect x="1357" y="199.2" width="294.9" height="341.3" fill="url(#gC)"/>
<rect x="1369.0" y="212" width="46.0" height="285" fill="url(#laneB)" opacity="0.8" filter="url(#b3)"/>
<rect x="1371.0" y="217.0" width="42.0" height="24.0" rx="6.0" fill="#15151a" opacity="0.05" filter="url(#b3)"/>
<rect x="1369.0" y="267.2" width="46.0" height="2.2" rx="1.1" fill="#15151a" opacity="0.10" filter="url(#b1)"/>
<rect x="1369.0" y="281.6" width="46.0" height="2.2" rx="1.1" fill="#15151a" opacity="0.05" filter="url(#b1)"/>
<rect x="1363.5" y="302.6" width="57.0" height="17.5" rx="6.0" fill="#0c0c10" opacity="1.00" filter="url(#b2)"/>
<rect x="1366.0" y="305.2" width="52.0" height="13.5" rx="6.0" fill="#0c0c10" opacity="1.00" filter="url(#b1)"/>
<ellipse cx="1392.0" cy="303.0" rx="16.0" ry="4.0" fill="#15151a" opacity="0.18" filter="url(#b3)"/>
<rect x="1369.5" y="323.9" width="45.0" height="9.5" rx="4.8" fill="#15151a" opacity="0.86" filter="url(#b2)"/>
<rect x="1368.0" y="319.5" width="48.0" height="6.0" rx="3.0" fill="#15151a" opacity="0.55" filter="url(#b2)"/>
<rect x="1369.0" y="342.9" width="46.0" height="2.2" rx="1.1" fill="#15151a" opacity="0.04" filter="url(#b1)"/>
<rect x="1369.0" y="347.9" width="46.0" height="2.2" rx="1.1" fill="#15151a" opacity="0.05" filter="url(#b1)"/>
<rect x="1369.0" y="354.9" width="46.0" height="2.2" rx="1.1" fill="#15151a" opacity="0.07" filter="url(#b1)"/>
<rect x="1369.0" y="359.9" width="46.0" height="2.2" rx="1.1" fill="#15151a" opacity="0.07" filter="url(#b1)"/>
<rect x="1369.0" y="365.4" width="46.0" height="2.2" rx="1.1" fill="#15151a" opacity="0.08" filter="url(#b1)"/>
<rect x="1369.0" y="370.9" width="46.0" height="2.2" rx="1.1" fill="#15151a" opacity="0.08" filter="url(#b1)"/>
<rect x="1369.0" y="376.4" width="46.0" height="2.2" rx="1.1" fill="#15151a" opacity="0.06" filter="url(#b1)"/>
<rect x="1369.0" y="382.9" width="46.0" height="2.2" rx="1.1" fill="#15151a" opacity="0.05" filter="url(#b1)"/>
<rect x="1369.0" y="348.0" width="46.0" height="34.0" rx="6.0" fill="#15151a" opacity="0.04" filter="url(#b3)"/>
<rect x="1368.0" y="417.9" width="48.0" height="2.3" rx="1.1" fill="#15151a" opacity="0.05" filter="url(#b1)"/>
<rect x="1368.0" y="422.9" width="48.0" height="2.3" rx="1.1" fill="#15151a" opacity="0.07" filter="url(#b1)"/>
<rect x="1368.0" y="427.9" width="48.0" height="2.3" rx="1.1" fill="#15151a" opacity="0.07" filter="url(#b1)"/>
<rect x="1368.0" y="432.9" width="48.0" height="2.3" rx="1.1" fill="#15151a" opacity="0.08" filter="url(#b1)"/>
<rect x="1368.0" y="438.9" width="48.0" height="2.3" rx="1.1" fill="#15151a" opacity="0.06" filter="url(#b1)"/>
<rect x="1368.0" y="444.9" width="48.0" height="2.3" rx="1.1" fill="#15151a" opacity="0.08" filter="url(#b1)"/>
<rect x="1368.0" y="450.4" width="48.0" height="2.3" rx="1.1" fill="#15151a" opacity="0.08" filter="url(#b1)"/>
<rect x="1368.0" y="418.0" width="48.0" height="34.0" rx="6.0" fill="#15151a" opacity="0.04" filter="url(#b3)"/>
<rect x="1367.0" y="470.9" width="50.0" height="2.8" rx="1.4" fill="#15151a" opacity="0.18" filter="url(#b1)"/>
<rect x="1369.0" y="475.0" width="46.0" height="12.0" rx="6.0" fill="#15151a" opacity="0.03" filter="url(#b3)"/>
<rect x="1435.1" y="212" width="39.0" height="285" fill="url(#laneB)" opacity="0.8" filter="url(#b3)"/>
<rect x="1437.1" y="217.0" width="35.0" height="24.0" rx="6.0" fill="#15151a" opacity="0.05" filter="url(#b3)"/>
<rect x="1435.1" y="267.2" width="39.0" height="2.2" rx="1.1" fill="#15151a" opacity="0.10" filter="url(#b1)"/>
<rect x="1435.1" y="281.6" width="39.0" height="2.2" rx="1.1" fill="#15151a" opacity="0.05" filter="url(#b1)"/>
<rect x="1429.6" y="302.6" width="50.0" height="17.5" rx="6.0" fill="#0c0c10" opacity="1.00" filter="url(#b2)"/>
<rect x="1432.1" y="305.2" width="45.0" height="13.5" rx="6.0" fill="#0c0c10" opacity="1.00" filter="url(#b1)"/>
<ellipse cx="1454.6" cy="303.0" rx="12.5" ry="4.0" fill="#15151a" opacity="0.18" filter="url(#b3)"/>
<rect x="1435.6" y="323.9" width="38.0" height="9.5" rx="4.8" fill="#15151a" opacity="0.86" filter="url(#b2)"/>
<rect x="1434.1" y="319.5" width="41.0" height="6.0" rx="3.0" fill="#15151a" opacity="0.55" filter="url(#b2)"/>
<rect x="1435.1" y="342.9" width="39.0" height="2.2" rx="1.1" fill="#15151a" opacity="0.04" filter="url(#b1)"/>
<rect x="1435.1" y="347.9" width="39.0" height="2.2" rx="1.1" fill="#15151a" opacity="0.05" filter="url(#b1)"/>
<rect x="1435.1" y="354.9" width="39.0" height="2.2" rx="1.1" fill="#15151a" opacity="0.07" filter="url(#b1)"/>
<rect x="1435.1" y="359.9" width="39.0" height="2.2" rx="1.1" fill="#15151a" opacity="0.07" filter="url(#b1)"/>
<rect x="1435.1" y="365.4" width="39.0" height="2.2" rx="1.1" fill="#15151a" opacity="0.08" filter="url(#b1)"/>
<rect x="1435.1" y="370.9" width="39.0" height="2.2" rx="1.1" fill="#15151a" opacity="0.08" filter="url(#b1)"/>
<rect x="1435.1" y="376.4" width="39.0" height="2.2" rx="1.1" fill="#15151a" opacity="0.06" filter="url(#b1)"/>
<rect x="1435.1" y="382.9" width="39.0" height="2.2" rx="1.1" fill="#15151a" opacity="0.05" filter="url(#b1)"/>
<rect x="1435.1" y="348.0" width="39.0" height="34.0" rx="6.0" fill="#15151a" opacity="0.04" filter="url(#b3)"/>
<rect x="1434.1" y="417.9" width="41.0" height="2.3" rx="1.1" fill="#15151a" opacity="0.05" filter="url(#b1)"/>
<rect x="1434.1" y="422.9" width="41.0" height="2.3" rx="1.1" fill="#15151a" opacity="0.07" filter="url(#b1)"/>
<rect x="1434.1" y="427.9" width="41.0" height="2.3" rx="1.1" fill="#15151a" opacity="0.07" filter="url(#b1)"/>
<rect x="1434.1" y="432.9" width="41.0" height="2.3" rx="1.1" fill="#15151a" opacity="0.08" filter="url(#b1)"/>
<rect x="1434.1" y="438.9" width="41.0" height="2.3" rx="1.1" fill="#15151a" opacity="0.06" filter="url(#b1)"/>
<rect x="1434.1" y="444.9" width="41.0" height="2.3" rx="1.1" fill="#15151a" opacity="0.08" filter="url(#b1)"/>
<rect x="1434.1" y="450.4" width="41.0" height="2.3" rx="1.1" fill="#15151a" opacity="0.08" filter="url(#b1)"/>
<rect x="1434.1" y="418.0" width="41.0" height="34.0" rx="6.0" fill="#15151a" opacity="0.04" filter="url(#b3)"/>
<rect x="1433.1" y="470.9" width="43.0" height="2.8" rx="1.4" fill="#15151a" opacity="0.03" filter="url(#b1)"/>
<rect x="1435.1" y="475.0" width="39.0" height="12.0" rx="6.0" fill="#15151a" opacity="0.00" filter="url(#b3)"/>
<rect x="1491.2" y="212" width="40.0" height="285" fill="url(#laneB)" opacity="0.8" filter="url(#b3)"/>
<rect x="1493.2" y="217.0" width="36.0" height="24.0" rx="6.0" fill="#15151a" opacity="0.05" filter="url(#b3)"/>
<rect x="1491.2" y="267.2" width="40.0" height="2.2" rx="1.1" fill="#15151a" opacity="0.10" filter="url(#b1)"/>
<rect x="1491.2" y="281.6" width="40.0" height="2.2" rx="1.1" fill="#15151a" opacity="0.05" filter="url(#b1)"/>
<rect x="1485.7" y="302.6" width="51.0" height="17.5" rx="6.0" fill="#0c0c10" opacity="1.00" filter="url(#b2)"/>
<rect x="1488.2" y="305.2" width="46.0" height="13.5" rx="6.0" fill="#0c0c10" opacity="1.00" filter="url(#b1)"/>
<ellipse cx="1511.2" cy="303.0" rx="13.0" ry="4.0" fill="#15151a" opacity="0.18" filter="url(#b3)"/>
<rect x="1491.7" y="323.9" width="39.0" height="9.5" rx="4.8" fill="#15151a" opacity="0.86" filter="url(#b2)"/>
<rect x="1490.2" y="319.5" width="42.0" height="6.0" rx="3.0" fill="#15151a" opacity="0.55" filter="url(#b2)"/>
<rect x="1491.2" y="342.9" width="40.0" height="2.2" rx="1.1" fill="#15151a" opacity="0.04" filter="url(#b1)"/>
<rect x="1491.2" y="347.9" width="40.0" height="2.2" rx="1.1" fill="#15151a" opacity="0.05" filter="url(#b1)"/>
<rect x="1491.2" y="354.9" width="40.0" height="2.2" rx="1.1" fill="#15151a" opacity="0.07" filter="url(#b1)"/>
<rect x="1491.2" y="359.9" width="40.0" height="2.2" rx="1.1" fill="#15151a" opacity="0.07" filter="url(#b1)"/>
<rect x="1491.2" y="365.4" width="40.0" height="2.2" rx="1.1" fill="#15151a" opacity="0.08" filter="url(#b1)"/>
<rect x="1491.2" y="370.9" width="40.0" height="2.2" rx="1.1" fill="#15151a" opacity="0.08" filter="url(#b1)"/>
<rect x="1491.2" y="376.4" width="40.0" height="2.2" rx="1.1" fill="#15151a" opacity="0.06" filter="url(#b1)"/>
<rect x="1491.2" y="382.9" width="40.0" height="2.2" rx="1.1" fill="#15151a" opacity="0.05" filter="url(#b1)"/>
<rect x="1491.2" y="348.0" width="40.0" height="34.0" rx="6.0" fill="#15151a" opacity="0.04" filter="url(#b3)"/>
<rect x="1490.2" y="417.9" width="42.0" height="2.3" rx="1.1" fill="#15151a" opacity="0.05" filter="url(#b1)"/>
<rect x="1490.2" y="422.9" width="42.0" height="2.3" rx="1.1" fill="#15151a" opacity="0.07" filter="url(#b1)"/>
<rect x="1490.2" y="427.9" width="42.0" height="2.3" rx="1.1" fill="#15151a" opacity="0.07" filter="url(#b1)"/>
<rect x="1490.2" y="432.9" width="42.0" height="2.3" rx="1.1" fill="#15151a" opacity="0.08" filter="url(#b1)"/>
<rect x="1490.2" y="438.9" width="42.0" height="2.3" rx="1.1" fill="#15151a" opacity="0.06" filter="url(#b1)"/>
<rect x="1490.2" y="444.9" width="42.0" height="2.3" rx="1.1" fill="#15151a" opacity="0.08" filter="url(#b1)"/>
<rect x="1490.2" y="450.4" width="42.0" height="2.3" rx="1.1" fill="#15151a" opacity="0.08" filter="url(#b1)"/>
<rect x="1490.2" y="418.0" width="42.0" height="34.0" rx="6.0" fill="#15151a" opacity="0.04" filter="url(#b3)"/>
<rect x="1489.2" y="470.9" width="44.0" height="2.8" rx="1.4" fill="#15151a" opacity="0.20" filter="url(#b1)"/>
<rect x="1491.2" y="475.0" width="40.0" height="12.0" rx="6.0" fill="#15151a" opacity="0.04" filter="url(#b3)"/>
<rect x="1549.5" y="212" width="38.0" height="285" fill="url(#laneB)" opacity="0.8" filter="url(#b3)"/>
<rect x="1551.5" y="217.0" width="34.0" height="24.0" rx="6.0" fill="#15151a" opacity="0.05" filter="url(#b3)"/>
<rect x="1549.5" y="267.2" width="38.0" height="2.2" rx="1.1" fill="#15151a" opacity="0.10" filter="url(#b1)"/>
<rect x="1549.5" y="281.6" width="38.0" height="2.2" rx="1.1" fill="#15151a" opacity="0.05" filter="url(#b1)"/>
<rect x="1544.0" y="302.6" width="49.0" height="17.5" rx="6.0" fill="#0c0c10" opacity="1.00" filter="url(#b2)"/>
<rect x="1546.5" y="305.2" width="44.0" height="13.5" rx="6.0" fill="#0c0c10" opacity="1.00" filter="url(#b1)"/>
<ellipse cx="1568.5" cy="303.0" rx="12.0" ry="4.0" fill="#15151a" opacity="0.18" filter="url(#b3)"/>
<rect x="1553.0" y="323.9" width="37.0" height="9.5" rx="4.8" fill="#15151a" opacity="0.86" filter="url(#b2)"/>
<rect x="1548.5" y="319.5" width="40.0" height="6.0" rx="3.0" fill="#15151a" opacity="0.55" filter="url(#b2)"/>
<rect x="1549.5" y="342.9" width="38.0" height="2.2" rx="1.1" fill="#15151a" opacity="0.04" filter="url(#b1)"/>
<rect x="1549.5" y="347.9" width="38.0" height="2.2" rx="1.1" fill="#15151a" opacity="0.05" filter="url(#b1)"/>
<rect x="1549.5" y="354.9" width="38.0" height="2.2" rx="1.1" fill="#15151a" opacity="0.07" filter="url(#b1)"/>
<rect x="1549.5" y="359.9" width="38.0" height="2.2" rx="1.1" fill="#15151a" opacity="0.07" filter="url(#b1)"/>
<rect x="1549.5" y="365.4" width="38.0" height="2.2" rx="1.1" fill="#15151a" opacity="0.08" filter="url(#b1)"/>
<rect x="1549.5" y="370.9" width="38.0" height="2.2" rx="1.1" fill="#15151a" opacity="0.08" filter="url(#b1)"/>
<rect x="1549.5" y="376.4" width="38.0" height="2.2" rx="1.1" fill="#15151a" opacity="0.06" filter="url(#b1)"/>
<rect x="1549.5" y="382.9" width="38.0" height="2.2" rx="1.1" fill="#15151a" opacity="0.05" filter="url(#b1)"/>
<rect x="1549.5" y="348.0" width="38.0" height="34.0" rx="6.0" fill="#15151a" opacity="0.04" filter="url(#b3)"/>
<rect x="1548.5" y="417.9" width="40.0" height="2.3" rx="1.1" fill="#15151a" opacity="0.05" filter="url(#b1)"/>
<rect x="1548.5" y="422.9" width="40.0" height="2.3" rx="1.1" fill="#15151a" opacity="0.07" filter="url(#b1)"/>
<rect x="1548.5" y="427.9" width="40.0" height="2.3" rx="1.1" fill="#15151a" opacity="0.07" filter="url(#b1)"/>
<rect x="1548.5" y="432.9" width="40.0" height="2.3" rx="1.1" fill="#15151a" opacity="0.08" filter="url(#b1)"/>
<rect x="1548.5" y="438.9" width="40.0" height="2.3" rx="1.1" fill="#15151a" opacity="0.06" filter="url(#b1)"/>
<rect x="1548.5" y="444.9" width="40.0" height="2.3" rx="1.1" fill="#15151a" opacity="0.08" filter="url(#b1)"/>
<rect x="1548.5" y="450.4" width="40.0" height="2.3" rx="1.1" fill="#15151a" opacity="0.08" filter="url(#b1)"/>
<rect x="1548.5" y="418.0" width="40.0" height="34.0" rx="6.0" fill="#15151a" opacity="0.04" filter="url(#b3)"/>
<rect x="1547.5" y="470.9" width="42.0" height="2.8" rx="1.4" fill="#15151a" opacity="0.21" filter="url(#b1)"/>
<rect x="1549.5" y="475.0" width="38.0" height="12.0" rx="6.0" fill="#15151a" opacity="0.04" filter="url(#b3)"/>
<rect x="1606.0" y="212" width="36.0" height="285" fill="url(#laneB)" opacity="0.8" filter="url(#b3)"/>
<rect x="1608.0" y="217.0" width="32.0" height="24.0" rx="6.0" fill="#15151a" opacity="0.05" filter="url(#b3)"/>
<rect x="1606.0" y="267.2" width="36.0" height="2.2" rx="1.1" fill="#15151a" opacity="0.10" filter="url(#b1)"/>
<rect x="1606.0" y="281.6" width="36.0" height="2.2" rx="1.1" fill="#15151a" opacity="0.05" filter="url(#b1)"/>
<rect x="1600.5" y="302.6" width="47.0" height="17.5" rx="6.0" fill="#0c0c10" opacity="1.00" filter="url(#b2)"/>
<rect x="1603.0" y="305.2" width="42.0" height="13.5" rx="6.0" fill="#0c0c10" opacity="1.00" filter="url(#b1)"/>
<ellipse cx="1624.0" cy="303.0" rx="11.0" ry="4.0" fill="#15151a" opacity="0.18" filter="url(#b3)"/>
<rect x="1609.5" y="323.9" width="35.0" height="9.5" rx="4.8" fill="#15151a" opacity="0.86" filter="url(#b2)"/>
<rect x="1605.0" y="319.5" width="38.0" height="6.0" rx="3.0" fill="#15151a" opacity="0.55" filter="url(#b2)"/>
<rect x="1606.0" y="342.9" width="36.0" height="2.2" rx="1.1" fill="#15151a" opacity="0.04" filter="url(#b1)"/>
<rect x="1606.0" y="347.9" width="36.0" height="2.2" rx="1.1" fill="#15151a" opacity="0.05" filter="url(#b1)"/>
<rect x="1606.0" y="354.9" width="36.0" height="2.2" rx="1.1" fill="#15151a" opacity="0.07" filter="url(#b1)"/>
<rect x="1606.0" y="359.9" width="36.0" height="2.2" rx="1.1" fill="#15151a" opacity="0.07" filter="url(#b1)"/>
<rect x="1606.0" y="365.4" width="36.0" height="2.2" rx="1.1" fill="#15151a" opacity="0.08" filter="url(#b1)"/>
<rect x="1606.0" y="370.9" width="36.0" height="2.2" rx="1.1" fill="#15151a" opacity="0.08" filter="url(#b1)"/>
<rect x="1606.0" y="376.4" width="36.0" height="2.2" rx="1.1" fill="#15151a" opacity="0.06" filter="url(#b1)"/>
<rect x="1606.0" y="382.9" width="36.0" height="2.2" rx="1.1" fill="#15151a" opacity="0.05" filter="url(#b1)"/>
<rect x="1606.0" y="348.0" width="36.0" height="34.0" rx="6.0" fill="#15151a" opacity="0.04" filter="url(#b3)"/>
<rect x="1605.0" y="417.9" width="38.0" height="2.3" rx="1.1" fill="#15151a" opacity="0.05" filter="url(#b1)"/>
<rect x="1605.0" y="422.9" width="38.0" height="2.3" rx="1.1" fill="#15151a" opacity="0.07" filter="url(#b1)"/>
<rect x="1605.0" y="427.9" width="38.0" height="2.3" rx="1.1" fill="#15151a" opacity="0.07" filter="url(#b1)"/>
<rect x="1605.0" y="432.9" width="38.0" height="2.3" rx="1.1" fill="#15151a" opacity="0.08" filter="url(#b1)"/>
<rect x="1605.0" y="438.9" width="38.0" height="2.3" rx="1.1" fill="#15151a" opacity="0.06" filter="url(#b1)"/>
<rect x="1605.0" y="444.9" width="38.0" height="2.3" rx="1.1" fill="#15151a" opacity="0.08" filter="url(#b1)"/>
<rect x="1605.0" y="450.4" width="38.0" height="2.3" rx="1.1" fill="#15151a" opacity="0.08" filter="url(#b1)"/>
<rect x="1605.0" y="418.0" width="38.0" height="34.0" rx="6.0" fill="#15151a" opacity="0.04" filter="url(#b3)"/>
<text transform="translate(1343.30 199.40) scale(0.9471 1)" font-size="26.60" text-anchor="end">kDa</text>
<text transform="translate(1343.30 230.60) scale(1.0120 1)" font-size="23.69" text-anchor="end">180</text>
<text transform="translate(1343.30 265.50) scale(1.0120 1)" font-size="23.69" text-anchor="end">130</text>
<text transform="translate(1343.30 306.60) scale(1.0120 1)" font-size="23.69" text-anchor="end">100</text>
<text transform="translate(1343.30 332.70) scale(1.1079 1)" font-size="23.69" text-anchor="end">70</text>
<text transform="translate(1343.30 367.50) scale(1.1079 1)" font-size="23.69" text-anchor="end">55</text>
<text transform="translate(1343.30 398.30) scale(1.1079 1)" font-size="23.69" text-anchor="end">40</text>
<text transform="translate(1343.30 428.30) scale(1.1079 1)" font-size="23.69" text-anchor="end">35</text>
<text transform="translate(1343.30 458.50) scale(1.1079 1)" font-size="23.69" text-anchor="end">25</text>
<text transform="translate(1343.30 506.70) scale(0.9640 1)" font-size="23.69" text-anchor="end">15</text>
<text transform="translate(1392.00 187.20) scale(1.1079 1)" font-size="23.26" text-anchor="middle">0</text>
<text transform="translate(1453.50 187.20) scale(1.1079 1)" font-size="23.26" text-anchor="middle">30</text>
<text transform="translate(1507.80 187.20) scale(1.1079 1)" font-size="23.26" text-anchor="middle">30</text>
<text transform="translate(1564.80 187.20) scale(1.1079 1)" font-size="23.26" text-anchor="middle">30</text>
<text transform="translate(1621.00 187.20) scale(1.1079 1)" font-size="23.26" text-anchor="middle">30</text>
<line x1="1374.00" y1="161.40" x2="1411.70" y2="161.40" stroke="#1d1d1b" stroke-width="1.20"/>
<line x1="1434.90" y1="161.40" x2="1472.50" y2="161.40" stroke="#1d1d1b" stroke-width="1.20"/>
<line x1="1488.80" y1="161.40" x2="1640.70" y2="161.40" stroke="#1d1d1b" stroke-width="1.20"/>
<text transform="translate(1390.50 148.40) rotate(-45.00) scale(1.1828 1)" font-size="24.71">Input</text>
<text transform="translate(1453.80 145.40) rotate(-45.00) scale(1.0282 1)" font-size="24.71">1% DMSO</text>
<text transform="translate(1517.50 148.20) rotate(-45.00) scale(1.1241 1)" font-size="24.71">5 mM ATPγS</text>
<text transform="translate(1571.00 148.50) rotate(-45.00) scale(1.1244 1)" font-size="24.71">50 µM MG132</text>
<text transform="translate(1624.60 147.20) rotate(-45.00) scale(1.1312 1)" font-size="24.71">3 mM oPA</text>
<text transform="translate(1664.70 150.00) scale(1.0705 1)" font-size="26.45">Treatment</text>
<text transform="translate(1664.70 192.60) scale(1.0491 1)" font-size="26.74">Time (min)</text>
<line x1="1651.90" y1="306.80" x2="1659.20" y2="306.80" stroke="#1d1d1b" stroke-width="1.50"/>
<line x1="1651.90" y1="323.20" x2="1659.20" y2="323.20" stroke="#1d1d1b" stroke-width="1.50"/>
<line x1="1651.90" y1="472.30" x2="1659.20" y2="472.30" stroke="#1d1d1b" stroke-width="1.50"/>
<text transform="translate(1673.80 312.90) scale(0.9187 1)" font-size="25.87">NUB1</text>
<text transform="translate(1673.80 336.50) scale(0.9562 1)" font-size="25.87">BSA</text>
<text transform="translate(1673.80 482.20) scale(1.0055 1)" font-size="25.87">FAT10</text>
<text transform="translate(0.00 616.80)" font-size="38.00" font-weight="700" stroke="#222221" stroke-width="1.1" fill="#222221">d</text>
<path d="M117.3 929.1 L117.3 929.0 L117.4 928.7 L117.4 928.2 L117.5 927.6 L117.7 926.7 L117.8 925.7 L118.0 924.5 L118.3 923.1 L118.5 921.6 L118.8 919.9 L119.1 918.1 L119.4 916.1 L119.8 914.0 L120.2 911.8 L120.7 909.5 L121.1 907.0 L121.6 904.5 L122.1 901.9 L122.7 899.2 L123.3 896.4 L123.9 893.6 L124.5 890.7 L125.2 887.8 L125.9 884.9 L126.6 881.9 L127.4 878.9 L128.2 875.9 L129.0 872.9 L129.8 869.9 L130.7 866.8 L131.6 863.8 L132.6 860.9 L133.5 857.9 L134.5 855.0 L135.6 852.0 L136.6 849.2 L137.7 846.3 L138.8 843.5 L140.0 840.7 L141.2 838.0 L142.4 835.3 L143.6 832.6 L144.9 830.0 L146.2 827.5 L147.5 825.0 L148.8 822.5 L150.2 820.1 L151.6 817.7 L153.1 815.4 L154.6 813.1 L156.1 810.9 L157.6 808.7 L159.2 806.6 L160.8 804.5 L162.4 802.4 L164.0 800.4 L165.7 798.5 L167.4 796.6 L169.2 794.7 L171.0 792.9 L172.8 791.1 L174.6 789.4 L176.5 787.7 L178.4 786.0 L180.3 784.4 L182.2 782.8 L184.2 781.3 L186.2 779.8 L188.3 778.3 L190.3 776.9 L192.4 775.5 L194.6 774.2 L196.7 772.8 L198.9 771.5 L201.1 770.3 L203.4 769.0 L205.7 767.8 L208.0 766.6 L210.3 765.5 L212.7 764.4 L215.1 763.3 L217.5 762.2 L220.0 761.2 L222.5 760.1 L225.0 759.1 L227.5 758.2 L230.1 757.2 L232.7 756.3 L235.4 755.4 L238.0 754.5 L240.7 753.6 L243.5 752.8 L246.2 752.0 L249.0 751.1 L251.8 750.4 L254.7 749.6 L257.6 748.8 L260.5 748.1 L263.4 747.4 L266.4 746.7 L269.4 746.0 L272.4 745.3 L275.4 744.7 L278.5 744.0 L281.6 743.4 L284.8 742.8 L288.0 742.2 L291.2 741.6 L294.4 741.0 L297.7 740.4 L301.0 739.9 L304.3 739.3 L307.6 738.8 L311.0 738.3 L314.4 737.8 L317.9 737.3 L321.4 736.8 L324.9 736.3 L328.4 735.8 L331.9 735.4 L335.5 734.9 L339.2 734.5 L342.8 734.0 L346.5 733.6 L350.2 733.2 L354.0 732.8 L357.7 732.4 L361.5 732.0 L365.4 731.6 L369.2 731.3 L373.1 730.9 L377.0 730.5 L381.0 730.2 L385.0 729.8 L389.0 729.5 L393.0 729.1 L397.1 728.8 L401.2 728.5 L405.3 728.2 L409.5 727.9 L413.7 727.6 L417.9 727.2 L422.1 727.0 L426.4 726.7 L430.7 726.4 L435.0 726.1 L439.4 725.8 L443.8 725.6 L448.2 725.3 L452.7 725.0 L457.2 724.8 L461.7 724.5 L466.2 724.3 L470.8 724.0 L475.4 723.8 L480.1 723.6 L484.7 723.3 L489.4 723.1 L494.1 722.9 L498.9 722.7" fill="none" stroke="#1a1a1a" stroke-width="2.00" stroke-linejoin="round"/>
<line x1="117.30" y1="672.70" x2="117.30" y2="929.70" stroke="#2b2b2a" stroke-width="1.50"/>
<line x1="107.70" y1="929.10" x2="499.50" y2="929.10" stroke="#2b2b2a" stroke-width="1.50"/>
<line x1="107.70" y1="929.10" x2="117.30" y2="929.10" stroke="#2b2b2a" stroke-width="1.50"/>
<text transform="translate(93.60 937.80) scale(1.1079 1)" font-size="22.82" text-anchor="end">0</text>
<line x1="107.70" y1="892.56" x2="117.30" y2="892.56" stroke="#2b2b2a" stroke-width="1.50"/>
<text transform="translate(93.60 901.26) scale(1.0863 1)" font-size="22.82" text-anchor="end">0.2</text>
<line x1="107.70" y1="856.01" x2="117.30" y2="856.01" stroke="#2b2b2a" stroke-width="1.50"/>
<text transform="translate(93.60 864.71) scale(1.0863 1)" font-size="22.82" text-anchor="end">0.4</text>
<line x1="107.70" y1="819.47" x2="117.30" y2="819.47" stroke="#2b2b2a" stroke-width="1.50"/>
<text transform="translate(93.60 828.17) scale(1.0863 1)" font-size="22.82" text-anchor="end">0.6</text>
<line x1="107.70" y1="782.93" x2="117.30" y2="782.93" stroke="#2b2b2a" stroke-width="1.50"/>
<text transform="translate(93.60 791.63) scale(1.0863 1)" font-size="22.82" text-anchor="end">0.8</text>
<line x1="107.70" y1="746.39" x2="117.30" y2="746.39" stroke="#2b2b2a" stroke-width="1.50"/>
<text transform="translate(93.60 755.09) scale(0.9712 1)" font-size="22.82" text-anchor="end">1.0</text>
<line x1="107.70" y1="709.84" x2="117.30" y2="709.84" stroke="#2b2b2a" stroke-width="1.50"/>
<text transform="translate(93.60 718.54) scale(0.9712 1)" font-size="22.82" text-anchor="end">1.2</text>
<line x1="107.70" y1="673.30" x2="117.30" y2="673.30" stroke="#2b2b2a" stroke-width="1.50"/>
<text transform="translate(93.60 682.00) scale(0.9712 1)" font-size="22.82" text-anchor="end">1.4</text>
<line x1="117.30" y1="929.10" x2="117.30" y2="939.10" stroke="#2b2b2a" stroke-width="1.50"/>
<text transform="translate(117.30 968.60) scale(1.1079 1)" font-size="22.82" text-anchor="middle">0</text>
<line x1="180.90" y1="929.10" x2="180.90" y2="939.10" stroke="#2b2b2a" stroke-width="1.50"/>
<text transform="translate(180.90 968.60) scale(1.0120 1)" font-size="22.82" text-anchor="middle">100</text>
<line x1="244.50" y1="929.10" x2="244.50" y2="939.10" stroke="#2b2b2a" stroke-width="1.50"/>
<text transform="translate(244.50 968.60) scale(1.1079 1)" font-size="22.82" text-anchor="middle">200</text>
<line x1="308.10" y1="929.10" x2="308.10" y2="939.10" stroke="#2b2b2a" stroke-width="1.50"/>
<text transform="translate(308.10 968.60) scale(1.1079 1)" font-size="22.82" text-anchor="middle">300</text>
<line x1="371.70" y1="929.10" x2="371.70" y2="939.10" stroke="#2b2b2a" stroke-width="1.50"/>
<text transform="translate(371.70 968.60) scale(1.1079 1)" font-size="22.82" text-anchor="middle">400</text>
<line x1="435.30" y1="929.10" x2="435.30" y2="939.10" stroke="#2b2b2a" stroke-width="1.50"/>
<text transform="translate(435.30 968.60) scale(1.1079 1)" font-size="22.82" text-anchor="middle">500</text>
<line x1="498.90" y1="929.10" x2="498.90" y2="939.10" stroke="#2b2b2a" stroke-width="1.50"/>
<text transform="translate(498.90 968.60) scale(1.1079 1)" font-size="22.82" text-anchor="middle">600</text>
<text transform="translate(307.80 1010.80) scale(1.0236 1)" font-size="26.45" text-anchor="middle">[FAT10–Eos] (nM)</text>
<text transform="translate(36.00 801.70) rotate(-90.00) scale(0.9840 1)" font-size="28.34" text-anchor="middle"><tspan>Degradation rate (min</tspan><tspan font-size="18.71" dy="-10.20">–1</tspan><tspan dy="10.20">)</tspan></text>
<line x1="141.15" y1="825.87" x2="141.15" y2="836.83" stroke="#3a3a3a" stroke-width="1.20"/>
<line x1="136.15" y1="825.87" x2="146.15" y2="825.87" stroke="#3a3a3a" stroke-width="1.20"/>
<line x1="136.15" y1="836.83" x2="146.15" y2="836.83" stroke="#3a3a3a" stroke-width="1.20"/>
<line x1="165.00" y1="799.37" x2="165.00" y2="819.47" stroke="#3a3a3a" stroke-width="1.20"/>
<line x1="160.00" y1="799.37" x2="170.00" y2="799.37" stroke="#3a3a3a" stroke-width="1.20"/>
<line x1="160.00" y1="819.47" x2="170.00" y2="819.47" stroke="#3a3a3a" stroke-width="1.20"/>
<line x1="212.70" y1="759.72" x2="212.70" y2="776.90" stroke="#3a3a3a" stroke-width="1.20"/>
<line x1="207.70" y1="759.72" x2="217.70" y2="759.72" stroke="#3a3a3a" stroke-width="1.20"/>
<line x1="207.70" y1="776.90" x2="217.70" y2="776.90" stroke="#3a3a3a" stroke-width="1.20"/>
<line x1="308.10" y1="695.59" x2="308.10" y2="766.85" stroke="#3a3a3a" stroke-width="1.20"/>
<line x1="303.10" y1="695.59" x2="313.10" y2="695.59" stroke="#3a3a3a" stroke-width="1.20"/>
<line x1="303.10" y1="766.85" x2="313.10" y2="766.85" stroke="#3a3a3a" stroke-width="1.20"/>
<line x1="498.90" y1="715.32" x2="498.90" y2="739.44" stroke="#3a3a3a" stroke-width="1.20"/>
<line x1="493.90" y1="715.32" x2="503.90" y2="715.32" stroke="#3a3a3a" stroke-width="1.20"/>
<line x1="493.90" y1="739.44" x2="503.90" y2="739.44" stroke="#3a3a3a" stroke-width="1.20"/>
<circle cx="120.48" cy="911.74" r="4.30" fill="none" stroke="#2a2a2a" stroke-width="1.20"/>
<circle cx="123.66" cy="898.95" r="4.30" fill="none" stroke="#2a2a2a" stroke-width="1.20"/>
<circle cx="130.02" cy="870.63" r="4.30" fill="none" stroke="#2a2a2a" stroke-width="1.20"/>
<circle cx="141.15" cy="831.35" r="4.30" fill="none" stroke="#2a2a2a" stroke-width="1.20"/>
<circle cx="165.00" cy="809.42" r="4.30" fill="none" stroke="#2a2a2a" stroke-width="1.20"/>
<circle cx="212.70" cy="768.31" r="4.30" fill="none" stroke="#2a2a2a" stroke-width="1.20"/>
<circle cx="308.10" cy="731.22" r="4.30" fill="none" stroke="#2a2a2a" stroke-width="1.20"/>
<circle cx="498.90" cy="727.38" r="4.30" fill="none" stroke="#2a2a2a" stroke-width="1.20"/>
<text transform="translate(222.00 848.60) scale(0.9452 1)" font-size="23.26"><tspan font-style="italic">K</tspan><tspan font-size="13.26" dy="7.67">m</tspan><tspan dy="-7.67"> = 55.3 ± 11.2 nM</tspan></text>
<text transform="translate(223.00 885.60) scale(0.9554 1)" font-size="23.26"><tspan font-style="italic">k</tspan><tspan font-size="13.26" dy="7.67">cat</tspan><tspan dy="-7.67"> = 1.2 ± 0.1 min</tspan><tspan font-size="12.79" dy="-8.37">–1</tspan></text>
<text transform="translate(199.00 640.90) scale(0.9674 1)" font-size="22.97">FAT10</text>
<rect x="158.60" y="645.00" width="71.40" height="35.50" fill="#00a7e1"/>
<rect x="230.00" y="645.00" width="71.80" height="35.50" fill="#efb02e"/>
<line x1="301.80" y1="662.70" x2="311.00" y2="662.70" stroke="#1a1a1a" stroke-width="2.20"/>
<ellipse cx="374.60" cy="662.70" rx="63.60" ry="23.20" fill="#7abf57" stroke="#1a1a1a" stroke-width="1.50"/>
<text transform="translate(195.00 670.50) scale(0.9168 1)" font-size="22.67" text-anchor="middle">UBL1</text>
<text transform="translate(264.80 670.50) scale(0.9609 1)" font-size="22.67" text-anchor="middle">UBL2</text>
<text transform="translate(372.50 670.50) scale(0.9916 1)" font-size="22.67" text-anchor="middle">Eos3.2</text>
<text transform="translate(559.30 617.00) scale(1.0400 1)" font-size="38.00" font-weight="700" stroke="#222221" stroke-width="1.1" fill="#222221">e</text>
<text transform="translate(560.20 656.00) scale(0.9933 1)" font-size="22.67">FAM</text>
<text transform="translate(637.60 656.00) scale(0.9860 1)" font-size="22.67">FAT10</text>
<line x1="598.00" y1="674.80" x2="623.00" y2="674.80" stroke="#1a1a1a" stroke-width="2.20"/>
<polygon points="602.00,674.80 590.71,679.68 589.56,691.92 581.44,682.69 569.44,685.38 575.70,674.80 569.44,664.22 581.44,666.91 589.56,657.68 590.71,669.92" fill="#e9423d"/>
<rect x="622.00" y="664.00" width="46.00" height="23.50" fill="#00a7e1"/>
<rect x="668.00" y="664.00" width="46.80" height="23.50" fill="#efb02e"/>
<ellipse cx="667.50" cy="703.50" rx="56.30" ry="19.80" fill="#b4609b" stroke="#1a1a1a" stroke-width="1.50"/>
<text transform="translate(667.30 713.50) scale(0.8928 1)" font-size="22.67" text-anchor="middle">NUB1</text>
<line x1="660.60" y1="849.80" x2="659.80" y2="764.00" stroke="#36496a" stroke-width="4.80"/>
<path d="M659.6 750.1 L666.9 767.2 Q659.7 762.6 652.5 767.0 Z" fill="#36496a"/>
<text transform="translate(562.00 886.80) scale(0.9933 1)" font-size="22.67">FAM</text>
<text transform="translate(640.20 886.80) scale(0.9829 1)" font-size="22.67">FAT10</text>
<line x1="600.00" y1="906.30" x2="625.00" y2="906.30" stroke="#1a1a1a" stroke-width="2.30"/>
<polygon points="603.70,906.30 592.53,911.12 591.40,923.23 583.37,914.10 571.50,916.76 577.70,906.30 571.50,895.84 583.37,898.50 591.40,889.37 592.53,901.48" fill="#e9423d"/>
<rect x="623.20" y="895.20" width="46.40" height="23.40" fill="#00a7e1"/>
<rect x="669.60" y="895.20" width="47.00" height="23.40" fill="#efb02e"/>
<path d="M848.1 903.0 L848.1 903.0 L848.1 903.0 L848.1 902.9 L848.1 902.8 L848.1 902.6 L848.1 902.2 L848.1 901.8 L848.1 901.2 L848.1 900.4 L848.1 899.5 L848.1 898.4 L848.2 897.2 L848.2 895.8 L848.2 894.1 L848.2 892.4 L848.3 890.4 L848.3 888.4 L848.3 886.1 L848.4 883.8 L848.4 881.3 L848.4 878.7 L848.5 876.0 L848.5 873.2 L848.6 870.3 L848.7 867.3 L848.7 864.3 L848.8 861.2 L848.9 858.0 L849.0 854.8 L849.1 851.5 L849.2 848.3 L849.3 844.9 L849.4 841.6 L849.5 838.3 L849.7 835.0 L849.8 831.7 L850.0 828.4 L850.1 825.1 L850.3 821.9 L850.4 818.7 L850.6 815.5 L850.8 812.4 L851.0 809.4 L851.2 806.4 L851.4 803.5 L851.7 800.6 L851.9 797.9 L852.2 795.1 L852.4 792.5 L852.7 789.9 L853.0 787.5 L853.3 785.0 L853.6 782.7 L853.9 780.4 L854.2 778.2 L854.5 776.1 L854.9 774.0 L855.3 772.1 L855.6 770.1 L856.0 768.3 L856.4 766.5 L856.8 764.8 L857.3 763.1 L857.7 761.5 L858.2 760.0 L858.6 758.5 L859.1 757.0 L859.6 755.7 L860.1 754.3 L860.7 753.0 L861.2 751.8 L861.8 750.6 L862.4 749.4 L863.0 748.3 L863.6 747.2 L864.2 746.2 L864.8 745.2 L865.5 744.2 L866.2 743.2 L866.9 742.3 L867.6 741.5 L868.3 740.6 L869.1 739.8 L869.8 739.0 L870.6 738.2 L871.4 737.4 L872.2 736.7 L873.1 736.0 L874.0 735.3 L874.8 734.7 L875.7 734.0 L876.7 733.4 L877.6 732.8 L878.6 732.2 L879.5 731.6 L880.5 731.0 L881.6 730.5 L882.6 729.9 L883.7 729.4 L884.8 728.9 L885.9 728.4 L887.0 727.9 L888.2 727.4 L889.4 726.9 L890.6 726.4 L891.8 726.0 L893.0 725.5 L894.3 725.1 L895.6 724.7 L896.9 724.2 L898.3 723.8 L899.6 723.4 L901.0 723.0 L902.4 722.6 L903.9 722.2 L905.3 721.8 L906.8 721.4 L908.4 721.0 L909.9 720.6 L911.5 720.3 L913.1 719.9 L914.7 719.5 L916.3 719.1 L918.0 718.8 L919.7 718.4 L921.5 718.1 L923.2 717.7 L925.0 717.3 L926.8 717.0 L928.7 716.6 L930.5 716.3 L932.4 715.9 L934.4 715.6 L936.3 715.2 L938.3 714.9 L940.4 714.5 L942.4 714.2 L944.5 713.8 L946.6 713.5 L948.7 713.1 L950.9 712.8 L953.1 712.4 L955.3 712.1 L957.6 711.7 L959.9 711.4 L962.2 711.0 L964.6 710.7 L967.0 710.3 L969.4 710.0 L971.9 709.6 L974.4 709.3 L976.9 708.9 L979.4 708.6 L982.0 708.2 L984.7 707.8 L987.3 707.5 L990.0 707.1 L992.8 706.7 L995.5 706.4 L998.3 706.0 L1001.1 705.6 L1004.0 705.2 L1006.9 704.8 L1009.9 704.5 L1012.8 704.1 L1015.9 703.7 L1018.9 703.3 L1022.0 702.9 L1025.1 702.5 L1028.3 702.1 L1031.5 701.7 L1034.7 701.3 L1038.0 700.9 L1041.3 700.5 L1044.6 700.1 L1048.0 699.7 L1051.5 699.2 L1054.9 698.8 L1058.4 698.4 L1062.0 698.0 L1065.6 697.5 L1069.2 697.1 L1072.9 696.7 L1076.6 696.2 L1080.3 695.8 L1084.1 695.3 L1087.9 694.9 L1091.8 694.4 L1095.7 693.9 L1099.6 693.5 L1103.6 693.0 L1107.7 692.5 L1111.7 692.1 L1115.9 691.6 L1120.0 691.1 L1124.2 690.6 L1128.5 690.1 L1132.8 689.6 L1137.1 689.1 L1141.5 688.6 L1145.9 688.1 L1150.4 687.6 L1154.9 687.1 L1159.4 686.5 L1164.0 686.0 L1168.7 685.5 L1173.4 685.0 L1178.1 684.4 L1182.9 683.9 L1187.7 683.3 L1192.6 682.8 L1197.5 682.2 L1202.5 681.6 L1207.5 681.1 L1212.6 680.5 L1217.7 679.9 L1222.8 679.3 L1228.0 678.8 L1233.3 678.2 L1238.6 677.6" fill="none" stroke="#9a86bf" stroke-width="2.40" stroke-linejoin="round"/>
<line x1="848.10" y1="905.26" x2="1238.60" y2="859.43" stroke="#1a1a1a" stroke-width="2.40"/>
<line x1="848.10" y1="667.70" x2="848.10" y2="929.70" stroke="#2b2b2a" stroke-width="1.50"/>
<line x1="837.60" y1="929.10" x2="1239.20" y2="929.10" stroke="#2b2b2a" stroke-width="1.50"/>
<line x1="837.60" y1="929.10" x2="848.10" y2="929.10" stroke="#2b2b2a" stroke-width="1.50"/>
<text transform="translate(823.40 938.80) scale(1.0120 1)" font-size="22.82" text-anchor="end">140</text>
<line x1="837.60" y1="891.84" x2="848.10" y2="891.84" stroke="#2b2b2a" stroke-width="1.50"/>
<text transform="translate(823.40 901.54) scale(1.0120 1)" font-size="22.82" text-anchor="end">150</text>
<line x1="837.60" y1="854.59" x2="848.10" y2="854.59" stroke="#2b2b2a" stroke-width="1.50"/>
<text transform="translate(823.40 864.29) scale(1.0120 1)" font-size="22.82" text-anchor="end">160</text>
<line x1="837.60" y1="817.33" x2="848.10" y2="817.33" stroke="#2b2b2a" stroke-width="1.50"/>
<text transform="translate(823.40 827.03) scale(1.0120 1)" font-size="22.82" text-anchor="end">170</text>
<line x1="837.60" y1="780.07" x2="848.10" y2="780.07" stroke="#2b2b2a" stroke-width="1.50"/>
<text transform="translate(823.40 789.77) scale(1.0120 1)" font-size="22.82" text-anchor="end">180</text>
<line x1="837.60" y1="742.81" x2="848.10" y2="742.81" stroke="#2b2b2a" stroke-width="1.50"/>
<text transform="translate(823.40 752.51) scale(1.0120 1)" font-size="22.82" text-anchor="end">190</text>
<line x1="837.60" y1="705.56" x2="848.10" y2="705.56" stroke="#2b2b2a" stroke-width="1.50"/>
<text transform="translate(823.40 715.26) scale(1.1079 1)" font-size="22.82" text-anchor="end">200</text>
<line x1="837.60" y1="668.30" x2="848.10" y2="668.30" stroke="#2b2b2a" stroke-width="1.50"/>
<text transform="translate(823.40 678.00) scale(1.0120 1)" font-size="22.82" text-anchor="end">210</text>
<line x1="848.10" y1="929.10" x2="848.10" y2="938.70" stroke="#2b2b2a" stroke-width="1.50"/>
<text transform="translate(848.10 969.00) scale(1.1079 1)" font-size="22.82" text-anchor="middle">0</text>
<line x1="945.73" y1="929.10" x2="945.73" y2="938.70" stroke="#2b2b2a" stroke-width="1.50"/>
<text transform="translate(945.73 969.00) scale(1.1079 1)" font-size="22.82" text-anchor="middle">5</text>
<line x1="1043.35" y1="929.10" x2="1043.35" y2="938.70" stroke="#2b2b2a" stroke-width="1.50"/>
<text transform="translate(1043.35 969.00) scale(0.9640 1)" font-size="22.82" text-anchor="middle">10</text>
<line x1="1140.97" y1="929.10" x2="1140.97" y2="938.70" stroke="#2b2b2a" stroke-width="1.50"/>
<text transform="translate(1140.97 969.00) scale(0.9640 1)" font-size="22.82" text-anchor="middle">15</text>
<line x1="1238.60" y1="929.10" x2="1238.60" y2="938.70" stroke="#2b2b2a" stroke-width="1.50"/>
<text transform="translate(1238.60 969.00) scale(1.1079 1)" font-size="22.82" text-anchor="middle">20</text>
<text transform="translate(1043.00 1010.40) scale(0.9965 1)" font-size="26.45" text-anchor="middle">[NUB1] (µM)</text>
<text transform="translate(758.00 799.30) rotate(-90.00) scale(0.9745 1)" font-size="28.34" text-anchor="middle">Polarization  (mP)</text>
<circle cx="1238.60" cy="681.71" r="4.80" fill="#9a86bf"/>
<circle cx="1043.35" cy="697.36" r="4.80" fill="#9a86bf"/>
<circle cx="945.73" cy="719.71" r="4.80" fill="#9a86bf"/>
<circle cx="896.91" cy="734.62" r="4.80" fill="#9a86bf"/>
<circle cx="872.90" cy="742.07" r="4.80" fill="#9a86bf"/>
<circle cx="860.60" cy="753.25" r="4.80" fill="#9a86bf"/>
<circle cx="854.15" cy="776.35" r="4.80" fill="#9a86bf"/>
<circle cx="851.42" cy="821.05" r="4.80" fill="#9a86bf"/>
<circle cx="850.05" cy="853.47" r="4.80" fill="#9a86bf"/>
<circle cx="849.27" cy="875.45" r="4.80" fill="#9a86bf"/>
<circle cx="848.88" cy="884.76" r="4.80" fill="#9a86bf"/>
<circle cx="848.49" cy="898.55" r="4.80" fill="#9a86bf"/>
<rect x="1233.80" y="855.00" width="9.60" height="9.60" fill="#1a1a1a"/>
<rect x="1038.55" y="881.45" width="9.60" height="9.60" fill="#1a1a1a"/>
<rect x="940.93" y="890.77" width="9.60" height="9.60" fill="#1a1a1a"/>
<rect x="892.11" y="893.75" width="9.60" height="9.60" fill="#1a1a1a"/>
<rect x="868.10" y="895.24" width="9.60" height="9.60" fill="#1a1a1a"/>
<rect x="855.80" y="897.85" width="9.60" height="9.60" fill="#1a1a1a"/>
<rect x="849.35" y="898.22" width="9.60" height="9.60" fill="#1a1a1a"/>
<rect x="846.23" y="899.71" width="9.60" height="9.60" fill="#1a1a1a"/>
<rect x="843.30" y="899.71" width="9.60" height="9.60" fill="#1a1a1a"/>
<rect x="844.28" y="903.44" width="9.60" height="9.60" fill="#1a1a1a"/>
<rect x="845.25" y="904.93" width="9.60" height="9.60" fill="#1a1a1a"/>
<text transform="translate(1136.50 724.90) scale(0.9341 1)" font-size="22.24">WT NUB1</text>
<text transform="translate(917.10 763.30) scale(0.9744 1)" font-size="22.53"><tspan font-style="italic">K</tspan><tspan font-size="12.84" dy="7.43">d</tspan><tspan dy="-7.43"> = 176 ± 6.8 nM</tspan></text>
<text transform="translate(1071.90 916.80) scale(0.9578 1)" font-size="22.24">NUB1 ΔUBA1–3</text>
<text transform="translate(1292.30 616.50) scale(1.1500 1)" font-size="38.00" font-weight="700" stroke="#222221" stroke-width="1.1" fill="#222221">f</text>
<line x1="1451.42" y1="896.04" x2="1736.66" y2="743.54" stroke="#1a1a1a" stroke-width="2.00"/>
<line x1="1432.70" y1="672.20" x2="1432.70" y2="929.70" stroke="#2b2b2a" stroke-width="1.50"/>
<line x1="1422.90" y1="929.10" x2="1736.50" y2="929.10" stroke="#2b2b2a" stroke-width="1.50"/>
<line x1="1422.90" y1="929.10" x2="1432.70" y2="929.10" stroke="#2b2b2a" stroke-width="1.50"/>
<text transform="translate(1408.80 937.70) scale(1.1079 1)" font-size="23.11" text-anchor="end">0</text>
<line x1="1422.90" y1="877.84" x2="1432.70" y2="877.84" stroke="#2b2b2a" stroke-width="1.50"/>
<text transform="translate(1408.80 886.44) scale(1.0959 1)" font-size="23.11" text-anchor="end">0.002</text>
<line x1="1422.90" y1="826.58" x2="1432.70" y2="826.58" stroke="#2b2b2a" stroke-width="1.50"/>
<text transform="translate(1408.80 835.18) scale(1.0959 1)" font-size="23.11" text-anchor="end">0.004</text>
<line x1="1422.90" y1="775.32" x2="1432.70" y2="775.32" stroke="#2b2b2a" stroke-width="1.50"/>
<text transform="translate(1408.80 783.92) scale(1.0959 1)" font-size="23.11" text-anchor="end">0.006</text>
<line x1="1422.90" y1="724.06" x2="1432.70" y2="724.06" stroke="#2b2b2a" stroke-width="1.50"/>
<text transform="translate(1408.80 732.66) scale(1.0959 1)" font-size="23.11" text-anchor="end">0.008</text>
<line x1="1422.90" y1="672.80" x2="1432.70" y2="672.80" stroke="#2b2b2a" stroke-width="1.50"/>
<text transform="translate(1408.80 681.40) scale(1.0320 1)" font-size="23.11" text-anchor="end">0.010</text>
<line x1="1432.70" y1="929.10" x2="1432.70" y2="939.10" stroke="#2b2b2a" stroke-width="1.50"/>
<text transform="translate(1432.70 968.50) scale(1.1079 1)" font-size="22.82" text-anchor="middle">0</text>
<line x1="1508.50" y1="929.10" x2="1508.50" y2="939.10" stroke="#2b2b2a" stroke-width="1.50"/>
<text transform="translate(1508.50 968.50) scale(0.8202 1)" font-size="22.82" text-anchor="middle">1</text>
<line x1="1584.30" y1="929.10" x2="1584.30" y2="939.10" stroke="#2b2b2a" stroke-width="1.50"/>
<text transform="translate(1584.30 968.50) scale(1.1079 1)" font-size="22.82" text-anchor="middle">2</text>
<line x1="1660.10" y1="929.10" x2="1660.10" y2="939.10" stroke="#2b2b2a" stroke-width="1.50"/>
<text transform="translate(1660.10 968.50) scale(1.1079 1)" font-size="22.82" text-anchor="middle">3</text>
<line x1="1735.90" y1="929.10" x2="1735.90" y2="939.10" stroke="#2b2b2a" stroke-width="1.50"/>
<text transform="translate(1735.90 968.50) scale(1.1079 1)" font-size="22.82" text-anchor="middle">4</text>
<text transform="translate(1585.00 1010.60)" font-size="26.45" text-anchor="middle">[NUB1] (µM)</text>
<text transform="translate(1314.80 802.00) rotate(-90.00) scale(0.9259 1)" font-size="28.34" text-anchor="middle"><tspan font-style="italic">k</tspan><tspan font-size="18.71" dy="9.35">obs</tspan><tspan dy="-9.35"> (s</tspan><tspan font-size="18.71" dy="-10.20">–1</tspan><tspan dy="10.20">)</tspan></text>
<line x1="1446.92" y1="911.10" x2="1455.92" y2="911.10" stroke="#1a1a1a" stroke-width="1.00"/>
<circle cx="1451.42" cy="906.90" r="4.70" fill="#1a1a1a"/>
<line x1="1466.10" y1="892.55" x2="1475.10" y2="892.55" stroke="#1a1a1a" stroke-width="1.00"/>
<circle cx="1470.60" cy="888.35" r="4.70" fill="#1a1a1a"/>
<line x1="1504.00" y1="863.07" x2="1513.00" y2="863.07" stroke="#1a1a1a" stroke-width="1.00"/>
<circle cx="1508.50" cy="858.87" r="4.70" fill="#1a1a1a"/>
<line x1="1579.80" y1="815.40" x2="1588.80" y2="815.40" stroke="#1a1a1a" stroke-width="1.00"/>
<circle cx="1584.30" cy="811.20" r="4.70" fill="#1a1a1a"/>
<line x1="1731.40" y1="756.20" x2="1740.40" y2="756.20" stroke="#1a1a1a" stroke-width="1.00"/>
<circle cx="1735.90" cy="752.00" r="4.70" fill="#1a1a1a"/>
<text transform="translate(1445.70 723.80) scale(1.0426 1)" font-size="22.97"><tspan font-style="italic">k</tspan><tspan font-size="13.09" dy="7.58">on</tspan><tspan dy="-7.58"> = 0.0016 ± 0.0003 s</tspan><tspan font-size="12.63" dy="-8.27">–1</tspan><tspan dy="8.27">µM</tspan><tspan font-size="12.63" dy="-8.27">–1</tspan></text>
<text transform="translate(0.00 1089.50)" font-size="38.00" font-weight="700" stroke="#222221" stroke-width="1.1" fill="#222221">g</text>
<text transform="translate(114.60 1123.00) scale(1.0996 1)" font-size="26.45">Single-turnover degradation</text>
<path d="M106.1 1176.2 C106.6 1172.7 106.6 1178.0 108.8 1179.4 C111.1 1180.9 111.5 1182.5 113.7 1181.1 C115.9 1179.6 111.3 1178.0 116.2 1174.5 C121.1 1171.1 124.8 1170.5 130.0 1169.7 C135.2 1168.8 131.6 1167.9 133.6 1171.6 C135.5 1175.3 133.2 1177.8 136.5 1181.9 C139.8 1185.9 140.0 1184.9 144.7 1185.1 C149.3 1185.4 149.2 1179.5 152.0 1182.7 C154.8 1185.9 152.9 1187.9 154.1 1195.7 C155.3 1203.5 153.0 1205.6 156.1 1208.7 C159.1 1211.9 159.8 1208.0 164.2 1206.3 C168.6 1204.6 167.2 1206.2 170.7 1203.0 C174.2 1199.9 173.0 1200.1 175.9 1195.7 C178.9 1191.3 175.2 1188.6 180.5 1188.4 C185.8 1188.1 188.2 1190.3 193.5 1194.9 C198.8 1199.5 195.9 1199.0 198.1 1203.8 C200.3 1208.7 196.6 1208.7 200.8 1211.2 C205.1 1213.6 208.8 1210.3 212.2 1212.0 C215.7 1213.7 214.7 1211.7 212.2 1216.9 C209.8 1222.0 205.6 1223.2 204.1 1229.1 C202.6 1234.9 206.6 1232.3 207.4 1236.4 C208.1 1240.6 209.2 1240.0 206.5 1242.9 C203.9 1245.9 201.6 1241.3 198.4 1246.2 C195.2 1251.1 198.4 1250.4 196.0 1259.2 C193.5 1268.0 190.0 1268.2 190.3 1275.5 C190.5 1282.8 194.1 1277.3 196.8 1283.6 C199.5 1290.0 200.2 1290.5 199.2 1296.7 C198.2 1302.8 196.4 1302.0 193.5 1304.0 C190.6 1305.9 191.9 1303.9 189.4 1303.2 C187.0 1302.4 190.0 1302.3 185.4 1301.5 C180.7 1300.8 184.7 1301.2 174.0 1300.7 C163.2 1300.2 164.2 1300.2 149.6 1299.9 C134.9 1299.7 139.8 1300.2 125.1 1299.9 C110.5 1299.7 111.7 1299.8 100.7 1299.1 C89.7 1298.4 93.0 1299.2 88.5 1297.5 C84.0 1295.8 86.9 1297.1 85.7 1293.4 C84.5 1289.7 85.8 1292.1 84.4 1285.3 C83.1 1278.4 84.1 1277.4 81.2 1270.6 C78.2 1263.8 76.4 1269.8 74.7 1262.5 C72.9 1255.1 72.5 1254.0 75.5 1246.2 C78.4 1238.4 79.1 1242.8 84.4 1236.4 C89.8 1230.1 88.5 1233.3 93.4 1225.0 C98.3 1216.7 96.6 1219.0 100.7 1208.7 C104.9 1198.5 105.6 1200.6 107.2 1190.8 C108.8 1181.1 105.6 1179.6 106.1 1176.2Z" fill="#96b2d9" stroke="#1f639f" stroke-width="1.00" stroke-linejoin="round"/>
<path d="M92.6 1274.7 C95.0 1274.7 95.6 1275.6 98.3 1278.7 C100.9 1281.9 101.9 1282.3 101.5 1285.3 C101.2 1288.2 98.9 1286.3 97.1 1288.5 C95.3 1290.7 97.4 1293.6 95.5 1292.6 C93.6 1291.6 92.5 1289.4 90.9 1285.3 C89.3 1281.1 89.6 1281.9 90.1 1278.7 C90.6 1275.6 90.1 1274.7 92.6 1274.7Z" fill="#ffffff"/>
<path d="M121.1 1238.0 C122.3 1233.6 120.3 1233.0 128.4 1231.5 C136.4 1230.1 136.7 1233.2 147.9 1233.2 C159.2 1233.2 156.8 1230.5 165.8 1231.5 C174.9 1232.5 174.9 1231.5 178.0 1236.4 C181.2 1241.3 182.5 1243.7 176.4 1247.8 C170.3 1252.0 169.7 1249.3 157.7 1250.3 C145.7 1251.2 146.5 1252.3 136.5 1251.1 C126.5 1249.8 129.0 1250.1 124.3 1246.2 C119.7 1242.3 119.8 1242.4 121.1 1238.0Z" fill="#29b4e3"/>
<path d="M113.7 1259.2 C113.7 1250.9 117.8 1256.3 125.1 1254.3 C132.5 1252.4 130.3 1252.7 138.2 1252.7 C146.0 1252.7 142.9 1254.3 151.2 1254.3 C159.5 1254.3 156.1 1250.3 165.8 1252.7 C175.6 1255.1 176.9 1254.6 183.7 1262.5 C190.6 1270.3 189.6 1271.4 188.6 1278.7 C187.7 1286.1 188.8 1284.9 180.5 1286.9 C172.2 1288.8 170.7 1286.7 160.9 1285.3 C151.2 1283.8 155.3 1282.5 147.9 1282.0 C140.6 1281.5 143.4 1283.6 136.5 1283.6 C129.7 1283.6 132.0 1289.3 125.1 1282.0 C118.3 1274.7 113.7 1267.5 113.7 1259.2Z" fill="#29b4e3"/>
<path d="M151.2 1258.9 Q139.8 1261.6 149.6 1265.4" fill="none" stroke="#e8383c" stroke-width="1.20"/>
<path d="M138.2 1281.2 Q148.7 1279.6 140.6 1274.7" fill="none" stroke="#e8383c" stroke-width="1.20"/>
<path d="M125.1 1238.0 C127.6 1235.1 128.4 1234.9 133.3 1234.0 C138.2 1233.0 138.0 1232.6 141.4 1234.8 C144.8 1237.0 143.7 1237.4 144.7 1241.3 C145.6 1245.2 147.1 1245.0 144.7 1247.8 C142.2 1250.6 141.2 1250.5 136.5 1250.7 C131.9 1251.0 132.6 1250.7 129.2 1248.6 C125.8 1246.5 126.3 1246.9 125.1 1243.7 C123.9 1240.6 122.7 1241.0 125.1 1238.0Z" fill="#109fd8" stroke="#1a1a1a" stroke-width="1.20"/>
<path d="M157.7 1236.4 C160.9 1234.0 160.7 1235.5 165.8 1234.8 C171.0 1234.0 171.3 1232.5 174.8 1234.0 C178.3 1235.4 177.8 1235.5 177.6 1239.7 C177.3 1243.8 177.5 1244.8 174.0 1247.8 C170.5 1250.8 171.0 1249.8 165.8 1249.8 C160.7 1249.8 160.1 1249.9 156.9 1247.8 C153.7 1245.8 155.0 1246.3 155.3 1242.9 C155.5 1239.5 154.5 1238.9 157.7 1236.4Z" fill="#109fd8" stroke="#1a1a1a" stroke-width="1.20"/>
<path d="M95.0 1260.8 C95.0 1256.0 95.4 1255.8 99.1 1253.8 C102.7 1251.9 103.3 1252.2 107.2 1254.3 C111.1 1256.4 106.7 1258.9 112.1 1260.8 C117.5 1262.8 118.3 1258.9 125.1 1260.8 C132.0 1262.8 130.3 1262.7 134.9 1267.3 C139.5 1272.0 140.1 1271.4 140.6 1276.3 C141.1 1281.2 140.7 1280.4 136.5 1283.6 C132.4 1286.9 132.6 1287.2 126.8 1287.2 C120.9 1287.2 122.8 1286.9 117.0 1283.6 C111.1 1280.4 112.6 1280.5 107.2 1276.3 C101.8 1272.1 102.7 1274.4 99.1 1269.8 C95.4 1265.1 95.0 1265.6 95.0 1260.8Z" fill="#109fd8" stroke="#1a1a1a" stroke-width="1.20"/>
<path d="M150.4 1259.2 C152.8 1254.8 153.2 1254.6 159.3 1252.7 C165.4 1250.7 164.9 1250.7 170.7 1252.7 C176.6 1254.6 175.2 1253.8 178.9 1259.2 C182.5 1264.6 179.8 1264.7 182.9 1270.6 C186.1 1276.5 188.0 1274.1 189.4 1278.7 C190.9 1283.4 191.0 1283.0 187.8 1286.1 C184.6 1289.1 184.5 1288.6 178.9 1288.8 C173.2 1289.1 173.5 1289.4 169.1 1286.9 C164.7 1284.3 168.1 1284.3 164.2 1280.4 C160.3 1276.5 160.0 1277.8 156.1 1273.9 C152.2 1270.0 152.9 1271.7 151.2 1267.3 C149.5 1263.0 147.9 1263.6 150.4 1259.2Z" fill="#109fd8" stroke="#1a1a1a" stroke-width="1.20"/>
<path d="M141.8 1291.7 C141.6 1289.7 143.8 1290.5 140.8 1290.4 C137.8 1290.2 126.1 1290.4 121.7 1290.5 C117.3 1290.6 114.0 1290.6 111.6 1291.1 C109.1 1291.5 106.9 1292.8 105.4 1293.6 C103.8 1294.4 103.1 1296.4 101.1 1296.5 C99.0 1296.6 93.7 1294.3 91.7 1294.5 C89.8 1294.6 87.8 1296.0 88.1 1297.5 C88.3 1299.1 92.6 1302.5 93.3 1304.9 C94.0 1307.3 92.3 1311.4 93.1 1313.5 C93.8 1315.6 96.7 1317.2 98.4 1318.9 C100.0 1320.7 103.5 1323.2 104.2 1325.2 C104.9 1327.1 103.0 1330.4 103.2 1332.2 C103.4 1334.0 105.9 1335.4 105.4 1337.2 C104.9 1339.1 101.6 1342.5 99.9 1344.6 C98.3 1346.8 95.3 1350.1 94.3 1351.6 C93.3 1353.2 93.3 1354.1 93.3 1355.1 C93.3 1356.2 94.3 1357.5 94.1 1358.6 C93.8 1359.8 92.6 1361.3 91.7 1362.5 C90.9 1363.8 88.6 1366.0 88.2 1367.2 C87.8 1368.4 88.4 1369.9 89.0 1370.7 C89.7 1371.5 90.6 1372.8 92.5 1372.7 C94.4 1372.5 100.0 1369.6 101.9 1369.5 C103.7 1369.5 103.5 1371.4 105.0 1372.3 C106.4 1373.1 108.5 1374.7 111.6 1375.4 C114.7 1376.0 121.4 1376.4 125.6 1376.6 C129.8 1376.7 137.2 1376.5 139.6 1376.2 C142.1 1375.9 141.5 1376.2 141.8 1374.6 C142.2 1373.0 141.9 1371.7 142.0 1365.6 C142.0 1359.6 142.0 1343.8 142.0 1334.5 C142.0 1325.2 142.0 1309.8 142.0 1303.4 C141.9 1296.9 142.0 1293.6 141.8 1291.7Z" fill="#c1c2c5"/>
<path d="M143.1 1291.7 C143.3 1289.7 139.8 1290.5 144.1 1290.4 C148.5 1290.2 166.6 1290.2 172.3 1290.5 C178.1 1290.8 180.2 1291.3 182.5 1292.5 C184.7 1293.6 185.8 1297.7 187.1 1298.3 C188.4 1298.9 190.2 1296.7 191.0 1296.7 C191.9 1296.8 192.8 1297.5 192.7 1298.8 C192.6 1300.2 190.1 1303.7 190.2 1305.7 C190.4 1307.7 193.5 1310.5 193.7 1311.9 C194.0 1313.3 192.4 1313.9 191.8 1315.0 C191.2 1316.2 190.3 1318.2 189.5 1319.7 C188.6 1321.2 186.3 1323.6 186.0 1325.2 C185.6 1326.7 186.5 1328.8 187.1 1329.8 C187.8 1330.9 190.4 1331.4 190.2 1332.3 C190.1 1333.3 186.8 1334.8 186.3 1336.1 C185.9 1337.3 186.7 1339.1 187.5 1340.7 C188.3 1342.4 190.7 1345.1 191.8 1347.0 C192.8 1348.8 194.6 1351.4 194.5 1353.2 C194.5 1354.9 191.6 1356.5 191.4 1358.6 C191.2 1360.7 193.4 1365.6 193.4 1367.2 C193.3 1368.8 192.0 1369.0 191.0 1369.2 C190.1 1369.3 188.3 1367.5 187.1 1368.0 C186.0 1368.5 184.9 1371.4 183.2 1372.7 C181.6 1373.9 180.8 1375.5 176.2 1376.2 C171.7 1376.8 157.7 1376.9 152.9 1376.9 C148.1 1377.0 145.8 1376.6 144.3 1376.2 C142.8 1375.9 143.2 1376.2 143.0 1374.6 C142.7 1373.0 142.8 1371.7 142.7 1365.6 C142.7 1359.6 142.7 1343.8 142.7 1334.5 C142.7 1325.2 142.7 1309.8 142.7 1303.4 C142.8 1296.9 142.9 1293.6 143.1 1291.7Z" fill="#c1c2c5"/>
<rect x="141.34" y="1290.67" width="2.20" height="85.50" fill="#c1c2c5"/>
<path d="M121.7 1305.7 C123.8 1303.7 124.6 1303.7 129.5 1302.6 C134.4 1301.5 136.4 1300.9 142.7 1300.9 C149.1 1300.9 151.7 1301.5 156.8 1302.6 C161.8 1303.6 162.2 1303.3 164.5 1305.3 C166.9 1307.3 166.9 1308.5 166.9 1311.1 C166.9 1313.8 166.7 1313.4 164.5 1316.6 C162.4 1319.8 159.5 1321.7 157.5 1324.8 C155.5 1327.9 156.0 1326.8 156.0 1329.8 C156.0 1332.8 155.5 1333.8 157.5 1337.6 C159.5 1341.4 162.3 1342.6 164.5 1346.2 C166.8 1349.8 167.1 1349.9 167.3 1353.2 C167.4 1356.5 167.8 1357.8 165.3 1360.2 C162.9 1362.6 162.0 1362.3 156.8 1363.3 C151.5 1364.3 149.1 1364.5 142.7 1364.5 C136.4 1364.5 134.2 1364.3 129.5 1363.3 C124.8 1362.3 124.5 1362.6 122.5 1360.2 C120.5 1357.8 120.8 1356.3 121.1 1353.2 C121.4 1350.1 121.4 1350.4 123.7 1347.0 C125.9 1343.5 128.7 1341.7 130.7 1338.4 C132.7 1335.1 132.5 1336.2 132.2 1332.9 C132.0 1329.7 131.8 1328.2 129.5 1324.4 C127.2 1320.6 124.6 1319.7 122.5 1316.6 C120.4 1313.5 120.7 1313.7 120.6 1311.1 C120.4 1308.6 119.6 1307.7 121.7 1305.7Z" fill="#e8e9eb"/>
<line x1="142.35" y1="1290.90" x2="142.35" y2="1300.40" stroke="#dadbdd" stroke-width="0.80"/>
<line x1="142.35" y1="1365.03" x2="142.35" y2="1376.24" stroke="#dadbdd" stroke-width="0.80"/>
<line x1="103.42" y1="1332.32" x2="113.93" y2="1332.32" stroke="#dadbdd" stroke-width="0.70"/>
<line x1="171.94" y1="1332.32" x2="190.08" y2="1332.32" stroke="#dadbdd" stroke-width="0.70"/>
<line x1="123.30" y1="1327.60" x2="135.30" y2="1332.00" stroke="#1a1a1a" stroke-width="1.10"/>
<line x1="123.30" y1="1332.00" x2="135.30" y2="1327.20" stroke="#1a1a1a" stroke-width="1.10"/>
<circle cx="121.80" cy="1326.80" r="1.70" fill="none" stroke="#1a1a1a" stroke-width="0.70"/>
<circle cx="121.80" cy="1332.80" r="1.70" fill="none" stroke="#1a1a1a" stroke-width="0.70"/>
<line x1="162.50" y1="1333.50" x2="150.50" y2="1337.90" stroke="#1a1a1a" stroke-width="1.10"/>
<line x1="162.50" y1="1337.90" x2="150.50" y2="1333.10" stroke="#1a1a1a" stroke-width="1.10"/>
<circle cx="164.00" cy="1332.70" r="1.70" fill="none" stroke="#1a1a1a" stroke-width="0.70"/>
<circle cx="164.00" cy="1338.70" r="1.70" fill="none" stroke="#1a1a1a" stroke-width="0.70"/>
<text transform="translate(21.60 1411.20) scale(1.0651 1)" font-size="26.45"><tspan font-style="italic">hs</tspan><tspan>26S proteasome</tspan></text>
<text transform="translate(143.30 1442.60) scale(1.0135 1)" font-size="26.45" text-anchor="middle">(2 µM)</text>
<line x1="287.40" y1="1216.70" x2="235.14" y2="1235.13" stroke="#36496a" stroke-width="3.60"/>
<path d="M223.60 1239.20 L237.24 1226.76 L235.14 1235.13 L242.03 1240.34 Z" fill="#36496a"/>
<line x1="284.00" y1="1334.00" x2="232.67" y2="1309.82" stroke="#36496a" stroke-width="3.60"/>
<path d="M221.60 1304.60 L240.05 1305.33 L232.67 1309.82 L233.91 1318.36 Z" fill="#36496a"/>
<rect x="306.90" y="1144.30" width="302.60" height="119.30" fill="#ffffff" stroke="#f2912e" stroke-width="2.00"/>
<text transform="translate(344.60 1171.70) scale(1.1012 1)" font-size="26.74">Added individually</text>
<ellipse cx="369.50" cy="1203.80" rx="56.20" ry="19.60" fill="#b4609b" stroke="#1a1a1a" stroke-width="1.50"/>
<text transform="translate(373.40 1212.60) scale(0.9044 1)" font-size="22.38" text-anchor="middle">NUB1</text>
<text transform="translate(449.60 1216.50)" font-size="22.00" text-anchor="middle">+</text>
<rect x="408.70" y="1227.30" width="46.30" height="23.10" fill="#00a7e1"/>
<rect x="455.00" y="1227.30" width="47.00" height="23.10" fill="#efb02e"/>
<line x1="502.00" y1="1238.70" x2="506.00" y2="1238.70" stroke="#1a1a1a" stroke-width="2.20"/>
<ellipse cx="552.90" cy="1238.70" rx="47.20" ry="18.60" fill="#7abf57" stroke="#1a1a1a" stroke-width="1.50"/>
<text transform="translate(420.40 1247.60) scale(1.0019 1)" font-size="22.38">FAT10</text>
<text transform="translate(555.40 1247.60) scale(0.9489 1)" font-size="22.38" text-anchor="middle">Eos</text>
<rect x="306.90" y="1297.10" width="302.40" height="111.90" fill="#ffffff" stroke="#b865a6" stroke-width="2.00"/>
<text transform="translate(336.00 1324.50) scale(1.0749 1)" font-size="26.89">Preformed complex</text>
<rect x="372.70" y="1341.90" width="46.70" height="22.80" fill="#00a7e1"/>
<rect x="419.40" y="1341.90" width="46.20" height="22.80" fill="#efb02e"/>
<line x1="465.60" y1="1353.30" x2="469.00" y2="1353.30" stroke="#1a1a1a" stroke-width="2.20"/>
<ellipse cx="516.40" cy="1353.70" rx="47.20" ry="18.50" fill="#7abf57" stroke="#1a1a1a" stroke-width="1.50"/>
<ellipse cx="418.40" cy="1382.00" rx="56.40" ry="19.60" fill="#b4609b" stroke="#1a1a1a" stroke-width="1.50"/>
<text transform="translate(386.60 1362.40) scale(1.0019 1)" font-size="22.38">FAT10</text>
<text transform="translate(514.70 1362.40) scale(0.9437 1)" font-size="22.38" text-anchor="middle">Eos</text>
<text transform="translate(417.80 1390.50) scale(0.9111 1)" font-size="22.38" text-anchor="middle">NUB1</text>
<line x1="610.50" y1="1236.40" x2="652.70" y2="1236.40" stroke="#f2912e" stroke-width="1.20"/>
<line x1="732.60" y1="1236.40" x2="806.00" y2="1236.40" stroke="#f2912e" stroke-width="1.20"/>
<line x1="610.50" y1="1320.10" x2="648.40" y2="1320.10" stroke="#b865a6" stroke-width="1.20"/>
<line x1="732.60" y1="1320.10" x2="793.50" y2="1320.10" stroke="#b865a6" stroke-width="1.20"/>
<text transform="translate(735.10 1089.40) scale(1.0944 1)" font-size="26.45">Preformed complex</text>
<path d="M779.4 1169.6 L779.8 1182.4 L780.5 1198.3 L781.1 1206.8 L781.8 1214.8 L782.4 1222.5 L783.0 1229.7 L783.7 1236.6 L784.3 1243.1 L785.0 1249.3 L785.6 1255.2 L786.3 1260.8 L786.9 1266.1 L787.5 1271.1 L788.2 1275.9 L788.8 1280.4 L789.5 1284.7 L790.1 1288.8 L790.7 1292.7 L791.4 1296.4 L792.0 1299.9 L792.7 1303.2 L793.3 1306.4 L793.9 1309.4 L794.6 1312.3 L795.2 1315.0 L795.9 1317.5 L796.5 1320.0 L797.2 1322.3 L797.8 1324.5 L798.4 1326.6 L799.1 1328.6 L799.7 1330.5 L800.4 1332.3 L801.0 1334.0 L801.6 1335.6" fill="none" stroke="#b4609b" stroke-width="1.30" stroke-linejoin="round"/>
<path d="M799.1 1328.6 L799.7 1330.5 L800.4 1332.3 L801.0 1334.0 L801.6 1335.6 L802.3 1337.2 L802.9 1338.7 L803.6 1340.1 L804.2 1341.4 L804.8 1342.7 L805.5 1343.9 L806.1 1345.0 L806.8 1346.1 L807.4 1347.1 L808.1 1348.1 L808.7 1349.1 L809.3 1350.0 L810.0 1350.8 L810.6 1351.6 L811.3 1352.4 L811.9 1353.1 L812.5 1353.8 L813.2 1354.5 L813.8 1355.1 L814.5 1355.7 L815.1 1356.3 L815.7 1356.9 L816.4 1357.4 L817.0 1357.9 L817.7 1358.4 L818.3 1358.8 L819.0 1359.2 L819.6 1359.7 L820.2 1360.1 L820.9 1360.4 L821.5 1360.8 L822.2 1361.1 L822.8 1361.5 L823.4 1361.8 L824.1 1362.1 L824.7 1362.4 L825.4 1362.7 L826.0 1362.9 L826.6 1363.2 L827.3 1363.4 L827.9 1363.7 L828.6 1363.9 L829.2 1364.1 L829.9 1364.3 L830.5 1364.5 L831.1 1364.7 L831.8 1364.9 L832.4 1365.0 L833.1 1365.2 L833.7 1365.4 L834.3 1365.5 L835.0 1365.7 L835.6 1365.8 L836.3 1366.0 L836.9 1366.1 L837.5 1366.2 L838.2 1366.3 L838.8 1366.5 L839.5 1366.6 L840.1 1366.7 L840.8 1366.8 L841.4 1366.9 L842.0 1367.0 L842.7 1367.1 L843.3 1367.2 L844.0 1367.3 L844.6 1367.4 L845.2 1367.5 L845.9 1367.5 L846.5 1367.6 L847.2 1367.7 L847.8 1367.8 L848.4 1367.8 L849.1 1367.9 L849.7 1368.0 L850.4 1368.1 L851.0 1368.1 L851.7 1368.2 L852.3 1368.2 L852.9 1368.3 L853.6 1368.4 L854.2 1368.4 L854.9 1368.5 L855.5 1368.5 L856.1 1368.6 L856.8 1368.7 L857.4 1368.7 L858.1 1368.8 L858.7 1368.8 L859.3 1368.9 L860.0 1368.9 L860.6 1368.9 L861.3 1369.0 L861.9 1369.0 L862.6 1369.1 L863.2 1369.1 L863.8 1369.2 L864.5 1369.2 L865.1 1369.3 L865.8 1369.3 L866.4 1369.3 L867.0 1369.4 L867.7 1369.4 L868.3 1369.4 L869.0 1369.5 L869.6 1369.5 L870.2 1369.6 L870.9 1369.6 L871.5 1369.6 L872.2 1369.7 L872.8 1369.7 L873.5 1369.7 L874.1 1369.8 L874.7 1369.8 L875.4 1369.8 L876.0 1369.9 L876.7 1369.9 L877.3 1369.9 L877.9 1370.0 L878.6 1370.0 L879.2 1370.0 L879.9 1370.0 L880.5 1370.1 L881.1 1370.1 L881.8 1370.1 L882.4 1370.2 L883.1 1370.2 L883.7 1370.2 L884.4 1370.2 L885.0 1370.3 L885.6 1370.3 L886.3 1370.3 L886.9 1370.4 L887.6 1370.4 L888.2 1370.4 L888.8 1370.4 L889.5 1370.5 L890.1 1370.5 L890.8 1370.5 L891.4 1370.5 L892.0 1370.6 L892.7 1370.6 L893.3 1370.6 L894.0 1370.6 L894.6 1370.6 L895.3 1370.7 L895.9 1370.7 L896.5 1370.7 L897.2 1370.7 L897.8 1370.8 L898.5 1370.8 L899.1 1370.8 L899.7 1370.8 L900.4 1370.8 L901.0 1370.9 L901.7 1370.9 L902.3 1370.9 L902.9 1370.9 L903.6 1370.9 L904.2 1371.0 L904.9 1371.0 L905.5 1371.0 L906.2 1371.0 L906.8 1371.0 L907.4 1371.1 L908.1 1371.1 L908.7 1371.1 L909.4 1371.1 L910.0 1371.1 L910.6 1371.2 L911.3 1371.2 L911.9 1371.2 L912.6 1371.2 L913.2 1371.2 L913.8 1371.2 L914.5 1371.3 L915.1 1371.3 L915.8 1371.3 L916.4 1371.3 L917.1 1371.3 L917.7 1371.3 L918.3 1371.4 L919.0 1371.4 L919.6 1371.4 L920.3 1371.4 L920.9 1371.4 L921.5 1371.4 L922.2 1371.5 L922.8 1371.5 L923.5 1371.5 L924.1 1371.5 L924.7 1371.5 L925.4 1371.5 L926.0 1371.6 L926.7 1371.6 L927.3 1371.6 L928.0 1371.6 L928.6 1371.6 L929.2 1371.6 L929.9 1371.6 L930.5 1371.7 L931.2 1371.7 L931.8 1371.7 L932.4 1371.7 L933.1 1371.7 L933.7 1371.7 L934.4 1371.7 L935.0 1371.7 L935.6 1371.8 L936.3 1371.8 L936.9 1371.8 L937.6 1371.8 L938.2 1371.8 L938.9 1371.8 L939.5 1371.8 L940.1 1371.9 L940.8 1371.9 L941.4 1371.9 L942.1 1371.9 L942.7 1371.9 L943.3 1371.9 L944.0 1371.9 L944.6 1371.9 L945.3 1371.9 L945.9 1372.0 L946.5 1372.0 L947.2 1372.0 L947.8 1372.0 L948.5 1372.0 L949.1 1372.0 L949.8 1372.0 L950.4 1372.0 L951.0 1372.0 L951.7 1372.1 L952.3 1372.1 L953.0 1372.1 L953.6 1372.1 L954.2 1372.1 L954.9 1372.1 L955.5 1372.1 L956.2 1372.1 L956.8 1372.1 L957.4 1372.1 L958.1 1372.2 L958.7 1372.2 L959.4 1372.2 L960.0 1372.2 L960.7 1372.2 L961.3 1372.2 L961.9 1372.2 L962.6 1372.2 L963.2 1372.2 L963.9 1372.2 L964.5 1372.3 L965.1 1372.3 L965.8 1372.3 L966.4 1372.3 L967.1 1372.3 L967.7 1372.3 L968.3 1372.3 L969.0 1372.3 L969.6 1372.3 L970.3 1372.3 L970.9 1372.3 L971.6 1372.3 L972.2 1372.4 L972.8 1372.4 L973.5 1372.4 L974.1 1372.4 L974.8 1372.4 L975.4 1372.4 L976.0 1372.4 L976.7 1372.4 L977.3 1372.4 L978.0 1372.4 L978.6 1372.4 L979.2 1372.4 L979.9 1372.4 L980.5 1372.5 L981.2 1372.5 L981.8 1372.5 L982.4 1372.5 L983.1 1372.5 L983.7 1372.5 L984.4 1372.5 L985.0 1372.5 L985.7 1372.5 L986.3 1372.5 L986.9 1372.5 L987.6 1372.5 L988.2 1372.5 L988.9 1372.5 L989.5 1372.6 L990.1 1372.6 L990.8 1372.6 L991.4 1372.6 L992.1 1372.6 L992.7 1372.6 L993.3 1372.6 L994.0 1372.6 L994.6 1372.6 L995.3 1372.6 L995.9 1372.6 L996.6 1372.6 L997.2 1372.6 L997.8 1372.6 L998.5 1372.6 L999.1 1372.6 L999.8 1372.6 L1000.4 1372.7 L1001.0 1372.7 L1001.7 1372.7 L1002.3 1372.7 L1003.0 1372.7 L1003.6 1372.7 L1004.2 1372.7 L1004.9 1372.7 L1005.5 1372.7 L1006.2 1372.7 L1006.8 1372.7 L1007.5 1372.7 L1008.1 1372.7 L1008.7 1372.7 L1009.4 1372.7 L1010.0 1372.7 L1010.7 1372.7 L1011.3 1372.7 L1011.9 1372.7 L1012.6 1372.8 L1013.2 1372.8 L1013.9 1372.8 L1014.5 1372.8 L1015.1 1372.8 L1015.8 1372.8 L1016.4 1372.8 L1017.1 1372.8 L1017.7 1372.8 L1018.4 1372.8 L1019.0 1372.8 L1019.6 1372.8 L1020.3 1372.8 L1020.9 1372.8 L1021.6 1372.8 L1022.2 1372.8 L1022.8 1372.8 L1023.5 1372.8 L1024.1 1372.8 L1024.8 1372.8 L1025.4 1372.8 L1026.0 1372.8 L1026.7 1372.9 L1027.3 1372.9 L1028.0 1372.9 L1028.6 1372.9 L1029.3 1372.9 L1029.9 1372.9 L1030.5 1372.9 L1031.2 1372.9 L1031.8 1372.9 L1032.5 1372.9 L1033.1 1372.9 L1033.7 1372.9 L1034.4 1372.9 L1035.0 1372.9 L1035.7 1372.9 L1036.3 1372.9 L1036.9 1372.9 L1037.6 1372.9 L1038.2 1372.9 L1038.9 1372.9 L1039.5 1372.9 L1040.2 1372.9 L1040.8 1372.9 L1041.4 1372.9 L1042.1 1372.9 L1042.7 1372.9 L1043.4 1372.9 L1044.0 1372.9 L1044.6 1373.0 L1045.3 1373.0 L1045.9 1373.0 L1046.6 1373.0 L1047.2 1373.0 L1047.8 1373.0 L1048.5 1373.0 L1049.1 1373.0 L1049.8 1373.0 L1050.4 1373.0 L1051.1 1373.0 L1051.7 1373.0 L1052.3 1373.0 L1053.0 1373.0 L1053.6 1373.0 L1054.3 1373.0 L1054.9 1373.0 L1055.5 1373.0 L1056.2 1373.0 L1056.8 1373.0 L1057.5 1373.0 L1058.1 1373.0 L1058.7 1373.0 L1059.4 1373.0 L1060.0 1373.0 L1060.7 1373.0 L1061.3 1373.0 L1062.0 1373.0 L1062.6 1373.0 L1063.2 1373.0 L1063.9 1373.0 L1064.5 1373.0 L1065.2 1373.0 L1065.8 1373.0 L1066.4 1373.0 L1067.1 1373.0 L1067.7 1373.0 L1068.4 1373.1 L1069.0 1373.1 L1069.6 1373.1 L1070.3 1373.1 L1070.9 1373.1 L1071.6 1373.1 L1072.2 1373.1 L1072.9 1373.1 L1073.5 1373.1 L1074.1 1373.1 L1074.8 1373.1 L1075.4 1373.1 L1076.1 1373.1 L1076.7 1373.1 L1077.3 1373.1 L1078.0 1373.1 L1078.6 1373.1 L1079.3 1373.1 L1079.9 1373.1 L1080.5 1373.1 L1081.2 1373.1 L1081.8 1373.1 L1082.5 1373.1 L1083.1 1373.1 L1083.8 1373.1 L1084.4 1373.1 L1085.0 1373.1 L1085.7 1373.1 L1086.3 1373.1 L1087.0 1373.1 L1087.6 1373.1 L1088.2 1373.1 L1088.9 1373.1 L1089.5 1373.1 L1090.2 1373.1 L1090.8 1373.1 L1091.4 1373.1 L1092.1 1373.1 L1092.7 1373.1 L1093.4 1373.1 L1094.0 1373.1 L1094.7 1373.1 L1095.3 1373.1 L1095.9 1373.1 L1096.6 1373.1 L1097.2 1373.1 L1097.9 1373.1 L1098.5 1373.1 L1099.1 1373.1 L1099.8 1373.1 L1100.4 1373.1 L1101.1 1373.1 L1101.7 1373.1 L1102.3 1373.2 L1103.0 1373.2 L1103.6 1373.2 L1104.3 1373.2 L1104.9 1373.2 L1105.6 1373.2 L1106.2 1373.2 L1106.8 1373.2 L1107.5 1373.2 L1108.1 1373.2 L1108.8 1373.2 L1109.4 1373.2 L1110.0 1373.2 L1110.7 1373.2 L1111.3 1373.2 L1112.0 1373.2 L1112.6 1373.2 L1113.2 1373.2 L1113.9 1373.2 L1114.5 1373.2 L1115.2 1373.2 L1115.8 1373.2 L1116.5 1373.2 L1117.1 1373.2 L1117.7 1373.2 L1118.4 1373.2 L1119.0 1373.2 L1119.7 1373.2 L1120.3 1373.2 L1120.9 1373.2 L1121.6 1373.2 L1122.2 1373.2 L1122.9 1373.2 L1123.5 1373.2 L1124.1 1373.2 L1124.8 1373.2 L1125.4 1373.2 L1126.1 1373.2 L1126.7 1373.2 L1127.4 1373.2 L1128.0 1373.2 L1128.6 1373.2 L1129.3 1373.2 L1129.9 1373.2 L1130.6 1373.2 L1131.2 1373.2 L1131.8 1373.2 L1132.5 1373.2 L1133.1 1373.2 L1133.8 1373.2 L1134.4 1373.2 L1135.0 1373.2 L1135.7 1373.2 L1136.3 1373.2 L1137.0 1373.2 L1137.6 1373.2 L1138.3 1373.2" fill="none" stroke="#b4609b" stroke-width="8.40" stroke-linejoin="round" stroke-linecap="round"/>
<rect x="781.55" y="1243.15" width="6.20" height="6.20" fill="#f4e6f0" stroke="#b4609b" stroke-width="1.20"/>
<rect x="782.83" y="1254.92" width="6.20" height="6.20" fill="#f4e6f0" stroke="#b4609b" stroke-width="1.20"/>
<rect x="784.11" y="1265.52" width="6.20" height="6.20" fill="#f4e6f0" stroke="#b4609b" stroke-width="1.20"/>
<rect x="785.40" y="1275.08" width="6.20" height="6.20" fill="#f4e6f0" stroke="#b4609b" stroke-width="1.20"/>
<rect x="786.68" y="1283.71" width="6.20" height="6.20" fill="#f4e6f0" stroke="#b4609b" stroke-width="1.20"/>
<rect x="787.96" y="1291.48" width="6.20" height="6.20" fill="#f4e6f0" stroke="#b4609b" stroke-width="1.20"/>
<rect x="789.24" y="1298.49" width="6.20" height="6.20" fill="#f4e6f0" stroke="#b4609b" stroke-width="1.20"/>
<rect x="790.53" y="1304.82" width="6.20" height="6.20" fill="#f4e6f0" stroke="#b4609b" stroke-width="1.20"/>
<rect x="791.81" y="1310.53" width="6.20" height="6.20" fill="#f4e6f0" stroke="#b4609b" stroke-width="1.20"/>
<rect x="793.09" y="1315.68" width="6.20" height="6.20" fill="#f4e6f0" stroke="#b4609b" stroke-width="1.20"/>
<rect x="794.37" y="1320.33" width="6.20" height="6.20" fill="#d9a9cd" stroke="#b4609b" stroke-width="1.20"/>
<rect x="795.66" y="1324.53" width="6.20" height="6.20" fill="#d9a9cd" stroke="#b4609b" stroke-width="1.20"/>
<rect x="796.94" y="1328.32" width="6.20" height="6.20" fill="#d9a9cd" stroke="#b4609b" stroke-width="1.20"/>
<rect x="798.22" y="1331.74" width="6.20" height="6.20" fill="#d9a9cd" stroke="#b4609b" stroke-width="1.20"/>
<path d="M780.5 1196.1 L781.8 1198.5 L783.0 1200.8 L784.3 1203.1 L785.6 1205.4 L786.9 1207.6 L788.2 1209.8 L789.5 1212.0 L790.7 1214.2 L792.0 1216.3 L793.3 1218.4 L794.6 1220.5 L795.9 1222.5 L797.2 1224.5 L798.4 1226.5 L799.7 1228.5 L801.0 1230.4 L802.3 1232.3 L803.6 1234.2 L804.8 1236.1 L806.1 1237.9 L807.4 1239.7 L808.7 1241.5 L810.0 1243.3 L811.3 1245.0 L812.5 1246.8 L813.8 1248.5 L815.1 1250.1 L816.4 1251.8 L817.7 1253.4 L819.0 1255.0 L820.2 1256.6 L821.5 1258.2 L822.8 1259.7 L824.1 1261.2 L825.4 1262.7 L826.6 1264.2 L827.9 1265.7 L829.2 1267.1 L830.5 1268.6 L831.8 1270.0 L833.1 1271.4 L834.3 1272.7 L835.6 1274.1 L836.9 1275.4 L838.2 1276.8 L839.5 1278.1 L840.8 1279.3 L842.0 1280.6 L843.3 1281.9 L844.6 1283.1 L845.9 1284.3 L847.2 1285.5 L848.4 1286.7 L849.7 1287.9 L851.0 1289.0 L852.3 1290.2 L853.6 1291.3 L854.9 1292.4 L856.1 1293.5 L857.4 1294.6 L858.7 1295.6 L860.0 1296.7 L861.3 1297.7 L862.6 1298.8 L863.8 1299.8 L865.1 1300.8 L866.4 1301.7 L867.7 1302.7 L869.0 1303.7 L870.2 1304.6 L871.5 1305.6 L872.8 1306.5 L874.1 1307.4 L875.4 1308.3 L876.7 1309.2 L877.9 1310.0 L879.2 1310.9 L880.5 1311.8 L881.8 1312.6 L883.1 1313.4 L884.4 1314.2 L885.6 1315.0 L886.9 1315.8 L888.2 1316.6 L889.5 1317.4 L890.8 1318.2 L892.0 1318.9 L893.3 1319.7 L894.6 1320.4 L895.9 1321.1 L897.2 1321.8 L898.5 1322.5 L899.7 1323.2 L901.0 1323.9 L902.3 1324.6 L903.6 1325.3 L904.9 1325.9 L906.2 1326.6 L907.4 1327.2 L908.7 1327.9 L910.0 1328.5 L911.3 1329.1 L912.6 1329.7 L913.8 1330.3 L915.1 1330.9 L916.4 1331.5 L917.7 1332.1 L919.0 1332.7 L920.3 1333.2 L921.5 1333.8 L922.8 1334.3 L924.1 1334.9 L925.4 1335.4 L926.7 1335.9 L928.0 1336.5 L929.2 1337.0 L930.5 1337.5 L931.8 1338.0 L933.1 1338.5 L934.4 1339.0 L935.6 1339.4 L936.9 1339.9 L938.2 1340.4 L939.5 1340.8 L940.8 1341.3 L942.1 1341.7 L943.3 1342.2 L944.6 1342.6 L945.9 1343.1 L947.2 1343.5 L948.5 1343.9 L949.8 1344.3 L951.0 1344.7 L952.3 1345.1 L953.6 1345.5 L954.9 1345.9 L956.2 1346.3 L957.4 1346.7 L958.7 1347.1 L960.0 1347.5 L961.3 1347.8 L962.6 1348.2 L963.9 1348.5 L965.1 1348.9 L966.4 1349.2 L967.7 1349.6 L969.0 1349.9 L970.3 1350.3 L971.6 1350.6 L972.8 1350.9 L974.1 1351.2 L975.4 1351.6 L976.7 1351.9 L978.0 1352.2 L979.2 1352.5 L980.5 1352.8 L981.8 1353.1 L983.1 1353.4 L984.4 1353.7 L985.7 1354.0 L986.9 1354.2 L988.2 1354.5 L989.5 1354.8 L990.8 1355.1 L992.1 1355.3 L993.3 1355.6 L994.6 1355.9 L995.9 1356.1 L997.2 1356.4 L998.5 1356.6 L999.8 1356.9 L1001.0 1357.1 L1002.3 1357.4 L1003.6 1357.6 L1004.9 1357.8 L1006.2 1358.1 L1007.5 1358.3 L1008.7 1358.5 L1010.0 1358.7 L1011.3 1359.0 L1012.6 1359.2 L1013.9 1359.4 L1015.1 1359.6 L1016.4 1359.8 L1017.7 1360.0 L1019.0 1360.2 L1020.3 1360.4 L1021.6 1360.6 L1022.8 1360.8 L1024.1 1361.0 L1025.4 1361.2 L1026.7 1361.4 L1028.0 1361.6 L1029.3 1361.7 L1030.5 1361.9 L1031.8 1362.1 L1033.1 1362.3 L1034.4 1362.5 L1035.7 1362.6 L1036.9 1362.8 L1038.2 1363.0 L1039.5 1363.1 L1040.8 1363.3 L1042.1 1363.4 L1043.4 1363.6 L1044.6 1363.8 L1045.9 1363.9 L1047.2 1364.1 L1048.5 1364.2 L1049.8 1364.4 L1051.1 1364.5 L1052.3 1364.6 L1053.6 1364.8 L1054.9 1364.9 L1056.2 1365.1 L1057.5 1365.2 L1058.7 1365.3 L1060.0 1365.5 L1061.3 1365.6 L1062.6 1365.7 L1063.9 1365.9 L1065.2 1366.0 L1066.4 1366.1 L1067.7 1366.2 L1069.0 1366.3 L1070.3 1366.5 L1071.6 1366.6 L1072.9 1366.7 L1074.1 1366.8 L1075.4 1366.9 L1076.7 1367.0 L1078.0 1367.2 L1079.3 1367.3 L1080.5 1367.4 L1081.8 1367.5 L1083.1 1367.6 L1084.4 1367.7 L1085.7 1367.8 L1087.0 1367.9 L1088.2 1368.0 L1089.5 1368.1 L1090.8 1368.2 L1092.1 1368.3 L1093.4 1368.4 L1094.7 1368.5 L1095.9 1368.5 L1097.2 1368.6 L1098.5 1368.7 L1099.8 1368.8 L1101.1 1368.9 L1102.3 1369.0 L1103.6 1369.1 L1104.9 1369.2 L1106.2 1369.2 L1107.5 1369.3 L1108.8 1369.4 L1110.0 1369.5 L1111.3 1369.6 L1112.6 1369.6 L1113.9 1369.7 L1115.2 1369.8 L1116.5 1369.9 L1117.7 1369.9 L1119.0 1370.0 L1120.3 1370.1 L1121.6 1370.1 L1122.9 1370.2 L1124.1 1370.3 L1125.4 1370.3 L1126.7 1370.4 L1128.0 1370.5 L1129.3 1370.5 L1130.6 1370.6 L1131.8 1370.7 L1133.1 1370.7 L1134.4 1370.8 L1135.7 1370.9 L1137.0 1370.9 L1138.3 1371.0 L1139.5 1371.0 L1140.8 1371.1 L1142.1 1371.1 L1143.4 1371.2 L1144.7 1371.3 L1145.9 1371.3 L1147.2 1371.4 L1148.5 1371.4 L1149.8 1371.5 L1151.1 1371.5 L1152.4 1371.6 L1153.6 1371.6 L1154.9 1371.7 L1156.2 1371.7 L1157.5 1371.8 L1158.8 1371.8 L1160.1 1371.9 L1161.3 1371.9 L1162.6 1372.0 L1163.9 1372.0 L1165.2 1372.0" fill="none" stroke="#f2912e" stroke-width="8.20" stroke-linejoin="round" stroke-linecap="round"/>
<path d="M781.8 1190.6 L971.6 1191.7 L1166.5 1192.3" fill="none" stroke="#1f1d1e" stroke-width="9.00" stroke-linecap="round"/>
<line x1="779.20" y1="1130.50" x2="779.20" y2="1388.30" stroke="#2b2b2a" stroke-width="1.50"/>
<line x1="769.20" y1="1387.70" x2="1164.50" y2="1387.70" stroke="#2b2b2a" stroke-width="1.50"/>
<line x1="769.20" y1="1387.70" x2="779.20" y2="1387.70" stroke="#2b2b2a" stroke-width="1.50"/>
<text transform="translate(755.50 1396.10) scale(1.1079 1)" font-size="22.82" text-anchor="end">0</text>
<line x1="769.20" y1="1302.17" x2="779.20" y2="1302.17" stroke="#2b2b2a" stroke-width="1.50"/>
<text transform="translate(755.50 1310.57) scale(1.1079 1)" font-size="22.82" text-anchor="end">5</text>
<line x1="769.20" y1="1216.63" x2="779.20" y2="1216.63" stroke="#2b2b2a" stroke-width="1.50"/>
<text transform="translate(755.50 1225.03) scale(0.9640 1)" font-size="22.82" text-anchor="end">10</text>
<line x1="769.20" y1="1131.10" x2="779.20" y2="1131.10" stroke="#2b2b2a" stroke-width="1.50"/>
<text transform="translate(755.50 1139.50) scale(0.9640 1)" font-size="22.82" text-anchor="end">15</text>
<line x1="779.20" y1="1387.70" x2="779.20" y2="1397.20" stroke="#2b2b2a" stroke-width="1.50"/>
<text transform="translate(779.20 1427.80) scale(1.1079 1)" font-size="22.82" text-anchor="middle">0</text>
<line x1="907.43" y1="1387.70" x2="907.43" y2="1397.20" stroke="#2b2b2a" stroke-width="1.50"/>
<text transform="translate(907.43 1427.80) scale(1.1079 1)" font-size="22.82" text-anchor="middle">200</text>
<line x1="1035.67" y1="1387.70" x2="1035.67" y2="1397.20" stroke="#2b2b2a" stroke-width="1.50"/>
<text transform="translate(1035.67 1427.80) scale(1.1079 1)" font-size="22.82" text-anchor="middle">400</text>
<line x1="1163.90" y1="1387.70" x2="1163.90" y2="1397.20" stroke="#2b2b2a" stroke-width="1.50"/>
<text transform="translate(1163.90 1427.80) scale(1.1079 1)" font-size="22.82" text-anchor="middle">600</text>
<text transform="translate(971.70 1467.10) scale(1.0492 1)" font-size="25.58" text-anchor="middle">Time (s)</text>
<text transform="translate(680.00 1258.80) rotate(-90.00) scale(0.9828 1)" font-size="28.05" text-anchor="middle">FAT10–Eos fluorescence</text>
<text transform="translate(710.80 1258.70) rotate(-90.00) scale(0.9487 1)" font-size="27.62" text-anchor="middle"><tspan>(10</tspan><tspan font-size="17.12" dy="-9.94">4</tspan><tspan dy="9.94"> a.u.)</tspan></text>
<text transform="translate(1075.50 1223.50) scale(1.0384 1)" font-size="20.93">No NUB1</text>
<rect x="1353.70" y="1222.48" width="54.80" height="164.42" fill="#b4609b" stroke="#3a2a36" stroke-width="1.00"/>
<rect x="1439.50" y="1369.97" width="54.20" height="16.93" fill="#f2912e" stroke="#3a2a20" stroke-width="1.00"/>
<rect x="1553.20" y="1175.37" width="54.20" height="211.53" fill="#b4609b" stroke="#3a2a36" stroke-width="1.00"/>
<rect x="1637.40" y="1383.65" width="56.50" height="1.90" fill="#2a2a2a"/>
<line x1="1381.30" y1="1202.70" x2="1381.30" y2="1239.60" stroke="#2a2a2a" stroke-width="1.20"/>
<line x1="1366.30" y1="1202.70" x2="1395.60" y2="1202.70" stroke="#2a2a2a" stroke-width="1.20"/>
<line x1="1366.30" y1="1239.60" x2="1395.60" y2="1239.60" stroke="#2a2a2a" stroke-width="1.20"/>
<line x1="1450.00" y1="1368.20" x2="1483.00" y2="1368.20" stroke="#2a2a2a" stroke-width="1.60"/>
<line x1="1564.00" y1="1173.80" x2="1596.00" y2="1173.80" stroke="#2a2a2a" stroke-width="1.40"/>
<ellipse cx="1373.30" cy="1206.30" rx="3.90" ry="4.40" fill="#b4609b" stroke="#2a2a2a" stroke-width="1.00"/>
<ellipse cx="1388.90" cy="1215.30" rx="3.90" ry="4.40" fill="#b4609b" stroke="#2a2a2a" stroke-width="1.00"/>
<ellipse cx="1380.60" cy="1241.20" rx="3.90" ry="4.40" fill="#b4609b" stroke="#2a2a2a" stroke-width="1.00"/>
<ellipse cx="1564.20" cy="1175.00" rx="3.90" ry="4.40" fill="#b4609b" stroke="#2a2a2a" stroke-width="1.00"/>
<ellipse cx="1580.20" cy="1172.40" rx="3.90" ry="4.40" fill="#b4609b" stroke="#2a2a2a" stroke-width="1.00"/>
<ellipse cx="1595.80" cy="1173.70" rx="3.90" ry="4.40" fill="#b4609b" stroke="#2a2a2a" stroke-width="1.00"/>
<rect x="1446.50" y="1364.40" width="7.80" height="8.40" fill="#f2912e" stroke="#2a2a2a" stroke-width="1.00"/>
<rect x="1462.50" y="1363.40" width="7.80" height="8.40" fill="#f2912e" stroke="#2a2a2a" stroke-width="1.00"/>
<rect x="1478.50" y="1364.10" width="7.80" height="8.40" fill="#f2912e" stroke="#2a2a2a" stroke-width="1.00"/>
<rect x="1645.80" y="1379.40" width="7.80" height="8.40" fill="#f2912e" stroke="#2a2a2a" stroke-width="1.00"/>
<rect x="1661.70" y="1378.70" width="7.80" height="8.40" fill="#f2912e" stroke="#2a2a2a" stroke-width="1.00"/>
<rect x="1677.70" y="1379.40" width="7.80" height="8.40" fill="#f2912e" stroke="#2a2a2a" stroke-width="1.00"/>
<line x1="1330.40" y1="1140.90" x2="1330.40" y2="1387.50" stroke="#2b2b2a" stroke-width="1.50"/>
<line x1="1321.40" y1="1386.90" x2="1715.50" y2="1386.90" stroke="#2b2b2a" stroke-width="1.50"/>
<line x1="1522.00" y1="1386.90" x2="1522.00" y2="1398.50" stroke="#2b2b2a" stroke-width="1.50"/>
<line x1="1321.40" y1="1386.90" x2="1330.40" y2="1386.90" stroke="#2b2b2a" stroke-width="1.50"/>
<text transform="translate(1309.20 1395.80) scale(1.1079 1)" font-size="23.11" text-anchor="end">0</text>
<line x1="1321.40" y1="1337.82" x2="1330.40" y2="1337.82" stroke="#2b2b2a" stroke-width="1.50"/>
<text transform="translate(1309.20 1346.72) scale(0.8202 1)" font-size="23.11" text-anchor="end">1</text>
<line x1="1321.40" y1="1288.74" x2="1330.40" y2="1288.74" stroke="#2b2b2a" stroke-width="1.50"/>
<text transform="translate(1309.20 1297.64) scale(1.1079 1)" font-size="23.11" text-anchor="end">2</text>
<line x1="1321.40" y1="1239.66" x2="1330.40" y2="1239.66" stroke="#2b2b2a" stroke-width="1.50"/>
<text transform="translate(1309.20 1248.56) scale(1.1079 1)" font-size="23.11" text-anchor="end">3</text>
<line x1="1321.40" y1="1190.58" x2="1330.40" y2="1190.58" stroke="#2b2b2a" stroke-width="1.50"/>
<text transform="translate(1309.20 1199.48) scale(1.1079 1)" font-size="23.11" text-anchor="end">4</text>
<line x1="1321.40" y1="1141.50" x2="1330.40" y2="1141.50" stroke="#2b2b2a" stroke-width="1.50"/>
<text transform="translate(1309.20 1150.40) scale(1.1079 1)" font-size="23.11" text-anchor="end">5</text>
<text transform="translate(1419.50 1427.90) scale(0.9894 1)" font-size="22.82" text-anchor="middle">10 µM</text>
<text transform="translate(1623.70 1427.90) scale(0.9612 1)" font-size="22.82" text-anchor="middle">1 µM</text>
<text transform="translate(1522.00 1468.40) scale(0.9969 1)" font-size="25.58" text-anchor="middle">[NUB1]</text>
<text transform="translate(1238.40 1264.60) rotate(-90.00) scale(1.0018 1)" font-size="28.05" text-anchor="middle">Eos unfolding</text>
<text transform="translate(1270.30 1263.20) rotate(-90.00) scale(0.9828 1)" font-size="28.05" text-anchor="middle"><tspan>rate (min</tspan><tspan font-size="18.51" dy="-10.10">–1</tspan><tspan dy="10.10">)</tspan></text>
<path d="M1381.3 1158.8 V1144.1 H1459.4 V1158.8" fill="none" stroke="#2a2a2a" stroke-width="1.20"/>
<path d="M1583.1 1158.8 V1144.1 H1661 V1158.8" fill="none" stroke="#2a2a2a" stroke-width="1.20"/>
<text transform="translate(1425.20 1147.50)" font-size="28.00" text-anchor="middle">**</text>
<text transform="translate(1624.40 1147.50)" font-size="28.00" text-anchor="middle">****</text>
</svg>
</body></html>
